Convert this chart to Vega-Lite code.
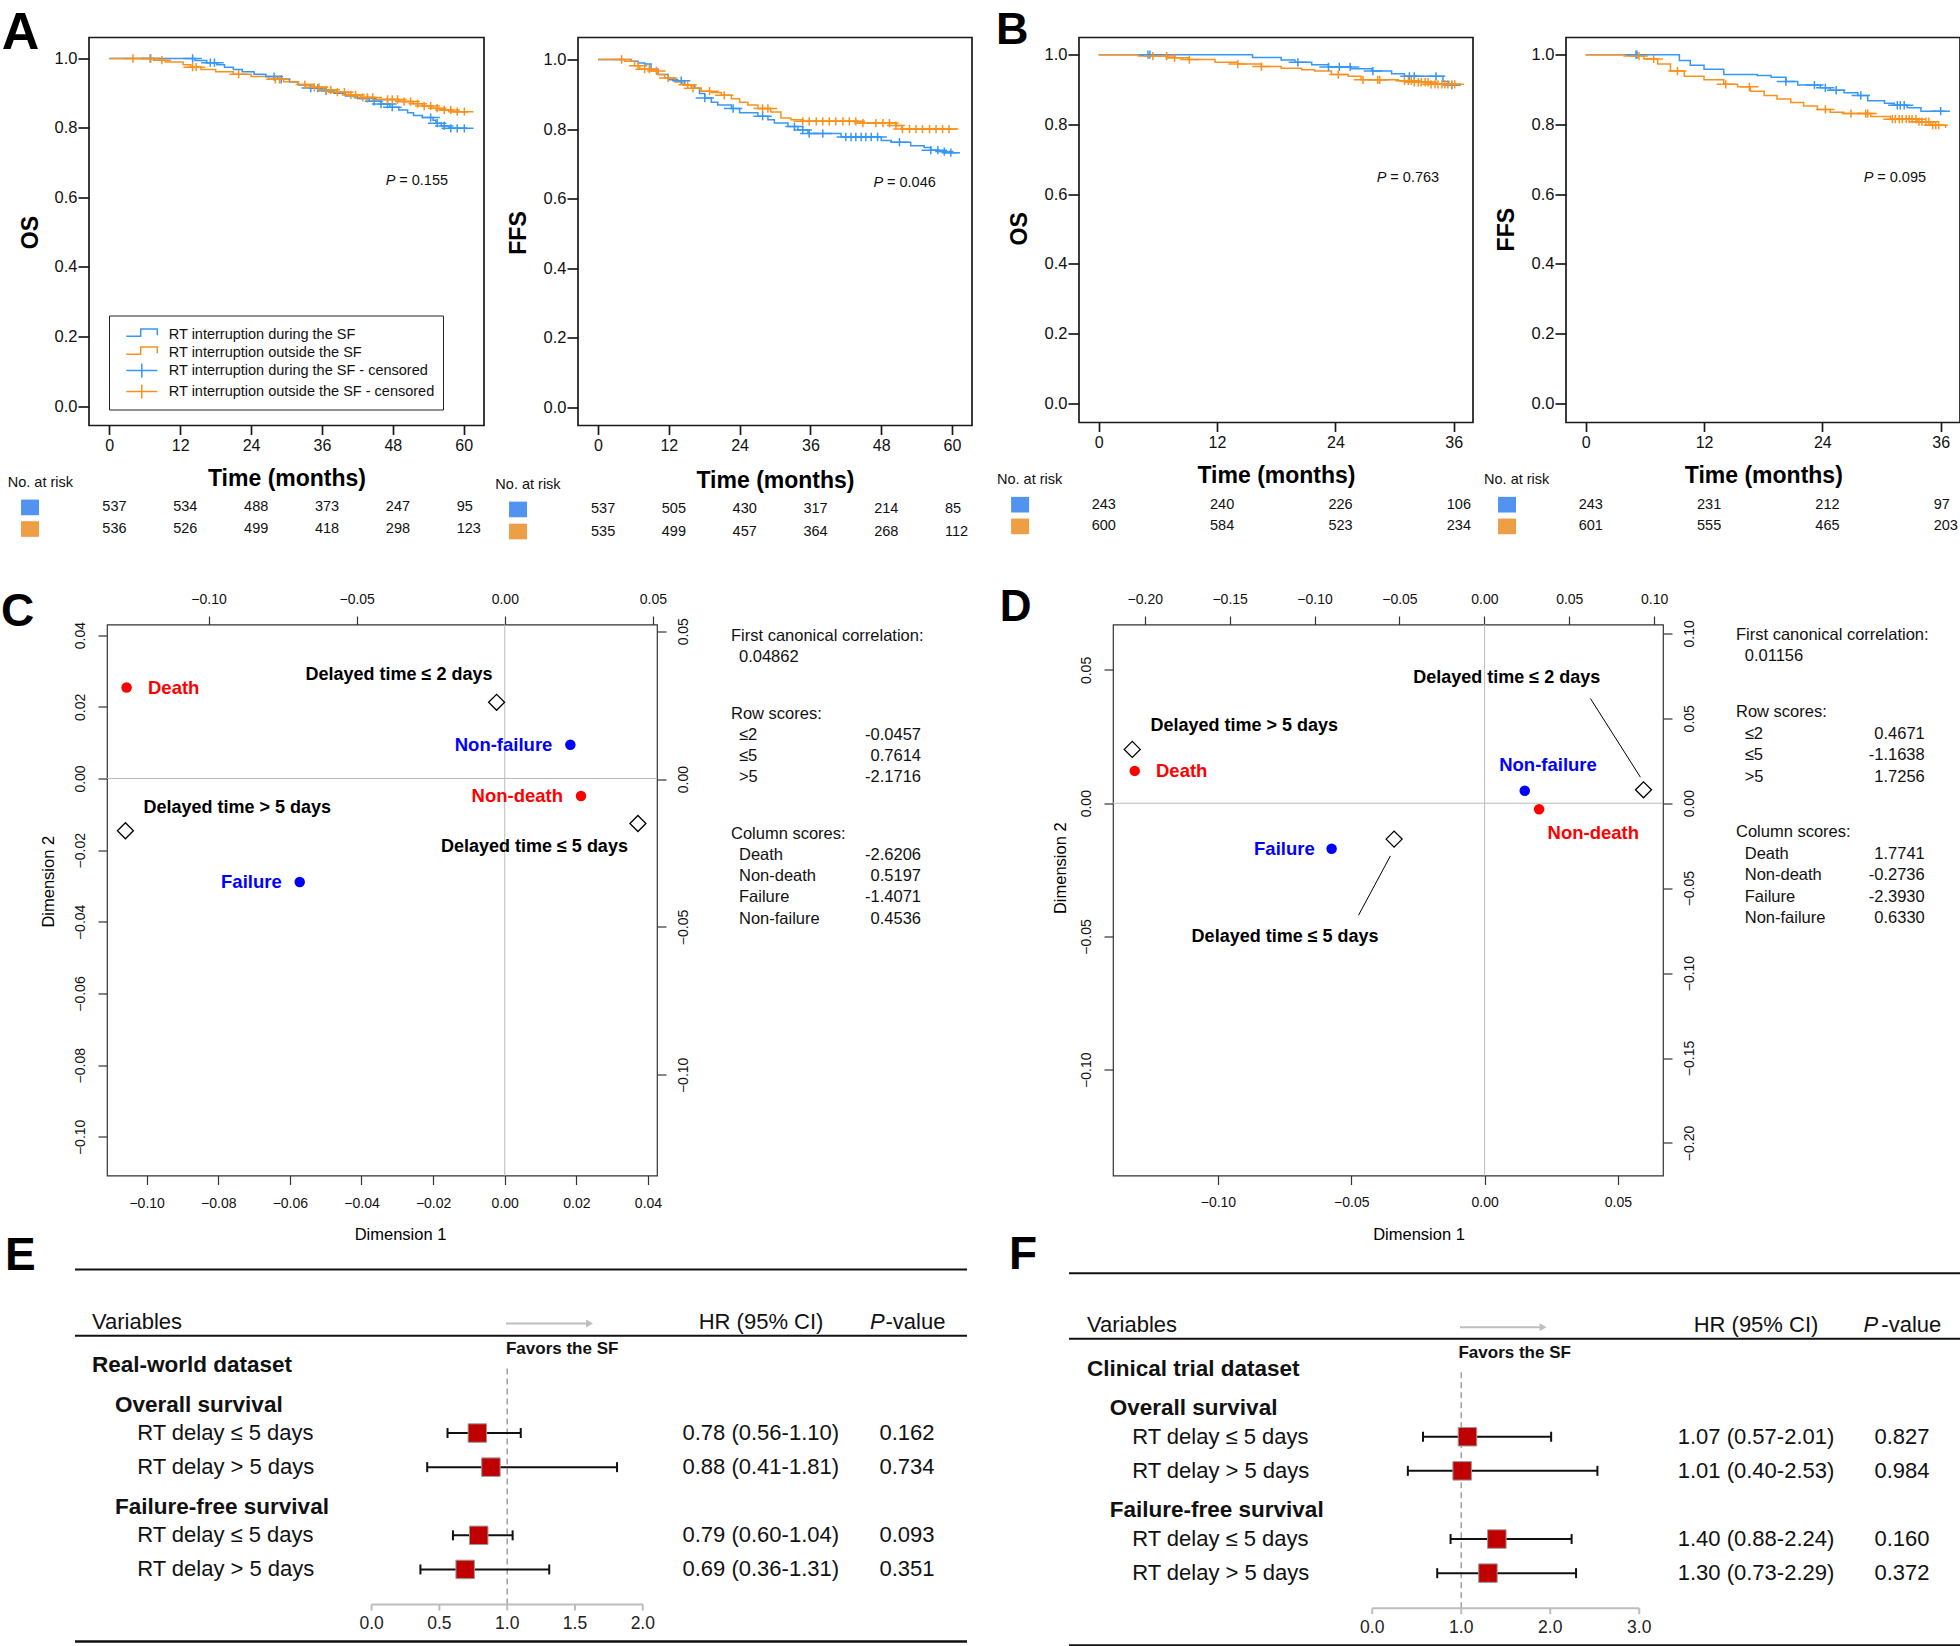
{
"$schema": "https://vega.github.io/schema/vega-lite/v6.json",
"padding": {"top": 5.5, "left": 0, "right": 0, "bottom": 0},
"background": "#ffffff",
"bounds": "flush",
"spacing": 0,
"resolve": {"scale": {"color": "independent", "shape": "independent"}},
"config": {
  "view": {"stroke": null},
  "font": "Liberation Sans",
  "axis": {"domain": false, "grid": false, "labelOverlap": false, "labelFlush": false, "labelBound": false, "labelFont": "Liberation Sans", "titleFont": "Liberation Sans", "labelColor": "#111111", "titleColor": "#000000", "tickColor": "#222222", "tickWidth": 1.2},
  "text": {"font": "Liberation Sans", "color": "#111111"},
  "legend": {"labelFont": "Liberation Sans"}
},
"datasets": {
"km_curve": [
{"p":"A1","g":"RT interruption during the SF","t":0,"s":1},{"p":"A1","g":"RT interruption during the SF","t":14.5,"s":0.994},{"p":"A1","g":"RT interruption during the SF","t":16.5,"s":0.988},{"p":"A1","g":"RT interruption during the SF","t":18.2,"s":0.982},{"p":"A1","g":"RT interruption during the SF","t":19.5,"s":0.975},{"p":"A1","g":"RT interruption during the SF","t":21,"s":0.968},{"p":"A1","g":"RT interruption during the SF","t":22.5,"s":0.962},{"p":"A1","g":"RT interruption during the SF","t":24.5,"s":0.955},{"p":"A1","g":"RT interruption during the SF","t":26.5,"s":0.948},{"p":"A1","g":"RT interruption during the SF","t":28.5,"s":0.94},{"p":"A1","g":"RT interruption during the SF","t":30.5,"s":0.932},{"p":"A1","g":"RT interruption during the SF","t":32,"s":0.924},{"p":"A1","g":"RT interruption during the SF","t":34,"s":0.915},{"p":"A1","g":"RT interruption during the SF","t":36,"s":0.907},{"p":"A1","g":"RT interruption during the SF","t":38,"s":0.9},{"p":"A1","g":"RT interruption during the SF","t":40,"s":0.892},{"p":"A1","g":"RT interruption during the SF","t":42,"s":0.885},{"p":"A1","g":"RT interruption during the SF","t":44,"s":0.877},{"p":"A1","g":"RT interruption during the SF","t":46,"s":0.869},{"p":"A1","g":"RT interruption during the SF","t":47.5,"s":0.86},{"p":"A1","g":"RT interruption during the SF","t":49,"s":0.852},{"p":"A1","g":"RT interruption during the SF","t":50.5,"s":0.844},{"p":"A1","g":"RT interruption during the SF","t":51.5,"s":0.836},{"p":"A1","g":"RT interruption during the SF","t":53,"s":0.83},{"p":"A1","g":"RT interruption during the SF","t":54.8,"s":0.822},{"p":"A1","g":"RT interruption during the SF","t":55.3,"s":0.814},{"p":"A1","g":"RT interruption during the SF","t":56.2,"s":0.806},{"p":"A1","g":"RT interruption during the SF","t":57.5,"s":0.799},{"p":"A1","g":"RT interruption during the SF","t":60.6,"s":0.799},
{"p":"A1","g":"RT interruption outside the SF","t":0,"s":1},{"p":"A1","g":"RT interruption outside the SF","t":7.5,"s":0.995},{"p":"A1","g":"RT interruption outside the SF","t":9.5,"s":0.99},{"p":"A1","g":"RT interruption outside the SF","t":12.5,"s":0.982},{"p":"A1","g":"RT interruption outside the SF","t":13.8,"s":0.975},{"p":"A1","g":"RT interruption outside the SF","t":15.5,"s":0.968},{"p":"A1","g":"RT interruption outside the SF","t":18,"s":0.962},{"p":"A1","g":"RT interruption outside the SF","t":21,"s":0.955},{"p":"A1","g":"RT interruption outside the SF","t":24,"s":0.948},{"p":"A1","g":"RT interruption outside the SF","t":27,"s":0.94},{"p":"A1","g":"RT interruption outside the SF","t":29.5,"s":0.933},{"p":"A1","g":"RT interruption outside the SF","t":32,"s":0.925},{"p":"A1","g":"RT interruption outside the SF","t":34.5,"s":0.917},{"p":"A1","g":"RT interruption outside the SF","t":36.5,"s":0.91},{"p":"A1","g":"RT interruption outside the SF","t":38.5,"s":0.903},{"p":"A1","g":"RT interruption outside the SF","t":40.5,"s":0.895},{"p":"A1","g":"RT interruption outside the SF","t":42.5,"s":0.888},{"p":"A1","g":"RT interruption outside the SF","t":45,"s":0.882},{"p":"A1","g":"RT interruption outside the SF","t":49,"s":0.876},{"p":"A1","g":"RT interruption outside the SF","t":51.5,"s":0.87},{"p":"A1","g":"RT interruption outside the SF","t":53,"s":0.863},{"p":"A1","g":"RT interruption outside the SF","t":54.5,"s":0.857},{"p":"A1","g":"RT interruption outside the SF","t":56,"s":0.852},{"p":"A1","g":"RT interruption outside the SF","t":58,"s":0.847},{"p":"A1","g":"RT interruption outside the SF","t":60.9,"s":0.847},
{"p":"A2","g":"RT interruption during the SF","t":0,"s":1},{"p":"A2","g":"RT interruption during the SF","t":5.6,"s":0.995},{"p":"A2","g":"RT interruption during the SF","t":6.8,"s":0.99},{"p":"A2","g":"RT interruption during the SF","t":7.9,"s":0.987},{"p":"A2","g":"RT interruption during the SF","t":9,"s":0.972},{"p":"A2","g":"RT interruption during the SF","t":10.2,"s":0.957},{"p":"A2","g":"RT interruption during the SF","t":11.9,"s":0.942},{"p":"A2","g":"RT interruption during the SF","t":13.5,"s":0.939},{"p":"A2","g":"RT interruption during the SF","t":14.7,"s":0.927},{"p":"A2","g":"RT interruption during the SF","t":16.4,"s":0.917},{"p":"A2","g":"RT interruption during the SF","t":17.2,"s":0.902},{"p":"A2","g":"RT interruption during the SF","t":18.1,"s":0.889},{"p":"A2","g":"RT interruption during the SF","t":19.2,"s":0.877},{"p":"A2","g":"RT interruption during the SF","t":20.3,"s":0.869},{"p":"A2","g":"RT interruption during the SF","t":22.6,"s":0.859},{"p":"A2","g":"RT interruption during the SF","t":24,"s":0.847},{"p":"A2","g":"RT interruption during the SF","t":27.1,"s":0.837},{"p":"A2","g":"RT interruption during the SF","t":28.8,"s":0.827},{"p":"A2","g":"RT interruption during the SF","t":29.9,"s":0.817},{"p":"A2","g":"RT interruption during the SF","t":32.2,"s":0.807},{"p":"A2","g":"RT interruption during the SF","t":33.9,"s":0.797},{"p":"A2","g":"RT interruption during the SF","t":35.6,"s":0.787},{"p":"A2","g":"RT interruption during the SF","t":41.2,"s":0.777},{"p":"A2","g":"RT interruption during the SF","t":48,"s":0.767},{"p":"A2","g":"RT interruption during the SF","t":49.7,"s":0.762},{"p":"A2","g":"RT interruption during the SF","t":53,"s":0.752},{"p":"A2","g":"RT interruption during the SF","t":55.3,"s":0.747},{"p":"A2","g":"RT interruption during the SF","t":56.4,"s":0.739},{"p":"A2","g":"RT interruption during the SF","t":57.8,"s":0.735},{"p":"A2","g":"RT interruption during the SF","t":59,"s":0.732},{"p":"A2","g":"RT interruption during the SF","t":60.9,"s":0.732},
{"p":"A2","g":"RT interruption outside the SF","t":0,"s":1},{"p":"A2","g":"RT interruption outside the SF","t":4.5,"s":0.995},{"p":"A2","g":"RT interruption outside the SF","t":6.2,"s":0.982},{"p":"A2","g":"RT interruption outside the SF","t":7.1,"s":0.972},{"p":"A2","g":"RT interruption outside the SF","t":9,"s":0.967},{"p":"A2","g":"RT interruption outside the SF","t":10.2,"s":0.957},{"p":"A2","g":"RT interruption outside the SF","t":11.3,"s":0.947},{"p":"A2","g":"RT interruption outside the SF","t":13,"s":0.935},{"p":"A2","g":"RT interruption outside the SF","t":14.4,"s":0.927},{"p":"A2","g":"RT interruption outside the SF","t":15.8,"s":0.917},{"p":"A2","g":"RT interruption outside the SF","t":17.5,"s":0.909},{"p":"A2","g":"RT interruption outside the SF","t":19.2,"s":0.905},{"p":"A2","g":"RT interruption outside the SF","t":20.9,"s":0.897},{"p":"A2","g":"RT interruption outside the SF","t":22.6,"s":0.887},{"p":"A2","g":"RT interruption outside the SF","t":24,"s":0.877},{"p":"A2","g":"RT interruption outside the SF","t":25.4,"s":0.869},{"p":"A2","g":"RT interruption outside the SF","t":27.1,"s":0.859},{"p":"A2","g":"RT interruption outside the SF","t":29.3,"s":0.849},{"p":"A2","g":"RT interruption outside the SF","t":31,"s":0.832},{"p":"A2","g":"RT interruption outside the SF","t":32.7,"s":0.827},{"p":"A2","g":"RT interruption outside the SF","t":34.7,"s":0.822},{"p":"A2","g":"RT interruption outside the SF","t":44,"s":0.817},{"p":"A2","g":"RT interruption outside the SF","t":50.5,"s":0.81},{"p":"A2","g":"RT interruption outside the SF","t":51.5,"s":0.8},{"p":"A2","g":"RT interruption outside the SF","t":60.9,"s":0.8},
{"p":"B1","g":"RT interruption during the SF","t":0,"s":1},{"p":"B1","g":"RT interruption during the SF","t":15.6,"s":0.992},{"p":"B1","g":"RT interruption during the SF","t":18.5,"s":0.985},{"p":"B1","g":"RT interruption during the SF","t":19.9,"s":0.978},{"p":"B1","g":"RT interruption during the SF","t":21.6,"s":0.971},{"p":"B1","g":"RT interruption during the SF","t":23.3,"s":0.965},{"p":"B1","g":"RT interruption during the SF","t":25.6,"s":0.96},{"p":"B1","g":"RT interruption during the SF","t":27.7,"s":0.953},{"p":"B1","g":"RT interruption during the SF","t":29.7,"s":0.945},{"p":"B1","g":"RT interruption during the SF","t":31,"s":0.938},{"p":"B1","g":"RT interruption during the SF","t":34.9,"s":0.923},{"p":"B1","g":"RT interruption during the SF","t":35.5,"s":0.913},{"p":"B1","g":"RT interruption during the SF","t":36.6,"s":0.913},
{"p":"B1","g":"RT interruption outside the SF","t":0,"s":1},{"p":"B1","g":"RT interruption outside the SF","t":4,"s":0.996},{"p":"B1","g":"RT interruption outside the SF","t":7,"s":0.991},{"p":"B1","g":"RT interruption outside the SF","t":9.1,"s":0.986},{"p":"B1","g":"RT interruption outside the SF","t":11.8,"s":0.978},{"p":"B1","g":"RT interruption outside the SF","t":14.1,"s":0.973},{"p":"B1","g":"RT interruption outside the SF","t":16.5,"s":0.966},{"p":"B1","g":"RT interruption outside the SF","t":18.5,"s":0.961},{"p":"B1","g":"RT interruption outside the SF","t":20.6,"s":0.957},{"p":"B1","g":"RT interruption outside the SF","t":21.9,"s":0.953},{"p":"B1","g":"RT interruption outside the SF","t":23.6,"s":0.943},{"p":"B1","g":"RT interruption outside the SF","t":25.3,"s":0.938},{"p":"B1","g":"RT interruption outside the SF","t":26.6,"s":0.928},{"p":"B1","g":"RT interruption outside the SF","t":30.4,"s":0.925},{"p":"B1","g":"RT interruption outside the SF","t":32,"s":0.921},{"p":"B1","g":"RT interruption outside the SF","t":33.7,"s":0.915},{"p":"B1","g":"RT interruption outside the SF","t":36.6,"s":0.911},
{"p":"B2","g":"RT interruption during the SF","t":0,"s":1},{"p":"B2","g":"RT interruption during the SF","t":9.5,"s":0.983},{"p":"B2","g":"RT interruption during the SF","t":10.6,"s":0.97},{"p":"B2","g":"RT interruption during the SF","t":12,"s":0.958},{"p":"B2","g":"RT interruption during the SF","t":14,"s":0.943},{"p":"B2","g":"RT interruption during the SF","t":17.4,"s":0.94},{"p":"B2","g":"RT interruption during the SF","t":18.8,"s":0.935},{"p":"B2","g":"RT interruption during the SF","t":20.3,"s":0.923},{"p":"B2","g":"RT interruption during the SF","t":21.5,"s":0.913},{"p":"B2","g":"RT interruption during the SF","t":23.8,"s":0.905},{"p":"B2","g":"RT interruption during the SF","t":24.8,"s":0.898},{"p":"B2","g":"RT interruption during the SF","t":26.2,"s":0.891},{"p":"B2","g":"RT interruption during the SF","t":27.6,"s":0.883},{"p":"B2","g":"RT interruption during the SF","t":28.6,"s":0.868},{"p":"B2","g":"RT interruption during the SF","t":30.3,"s":0.861},{"p":"B2","g":"RT interruption during the SF","t":31.3,"s":0.855},{"p":"B2","g":"RT interruption during the SF","t":32.6,"s":0.848},{"p":"B2","g":"RT interruption during the SF","t":34,"s":0.838},{"p":"B2","g":"RT interruption during the SF","t":36.5,"s":0.838},
{"p":"B2","g":"RT interruption outside the SF","t":0,"s":1},{"p":"B2","g":"RT interruption outside the SF","t":3.9,"s":0.996},{"p":"B2","g":"RT interruption outside the SF","t":5.9,"s":0.988},{"p":"B2","g":"RT interruption outside the SF","t":7.3,"s":0.973},{"p":"B2","g":"RT interruption outside the SF","t":8.6,"s":0.953},{"p":"B2","g":"RT interruption outside the SF","t":10,"s":0.938},{"p":"B2","g":"RT interruption outside the SF","t":12,"s":0.928},{"p":"B2","g":"RT interruption outside the SF","t":14,"s":0.915},{"p":"B2","g":"RT interruption outside the SF","t":15.4,"s":0.908},{"p":"B2","g":"RT interruption outside the SF","t":16.7,"s":0.895},{"p":"B2","g":"RT interruption outside the SF","t":18.1,"s":0.883},{"p":"B2","g":"RT interruption outside the SF","t":19.4,"s":0.873},{"p":"B2","g":"RT interruption outside the SF","t":20.8,"s":0.863},{"p":"B2","g":"RT interruption outside the SF","t":22.1,"s":0.853},{"p":"B2","g":"RT interruption outside the SF","t":23.5,"s":0.843},{"p":"B2","g":"RT interruption outside the SF","t":24.8,"s":0.835},{"p":"B2","g":"RT interruption outside the SF","t":26.2,"s":0.831},{"p":"B2","g":"RT interruption outside the SF","t":28.9,"s":0.823},{"p":"B2","g":"RT interruption outside the SF","t":30.9,"s":0.815},{"p":"B2","g":"RT interruption outside the SF","t":33.6,"s":0.808},{"p":"B2","g":"RT interruption outside the SF","t":35,"s":0.798},{"p":"B2","g":"RT interruption outside the SF","t":36.5,"s":0.79}
],
"km_cens": [
{"p":"A1","g":"RT interruption during the SF - censored","t":7,"s":1},{"p":"A1","g":"RT interruption during the SF - censored","t":14.1,"s":1},{"p":"A1","g":"RT interruption during the SF - censored","t":17.1,"s":0.988},{"p":"A1","g":"RT interruption during the SF - censored","t":17.8,"s":0.988},{"p":"A1","g":"RT interruption during the SF - censored","t":27.9,"s":0.948},{"p":"A1","g":"RT interruption during the SF - censored","t":29.1,"s":0.94},{"p":"A1","g":"RT interruption during the SF - censored","t":34.1,"s":0.915},{"p":"A1","g":"RT interruption during the SF - censored","t":35.3,"s":0.915},{"p":"A1","g":"RT interruption during the SF - censored","t":36.7,"s":0.907},{"p":"A1","g":"RT interruption during the SF - censored","t":43.7,"s":0.885},{"p":"A1","g":"RT interruption during the SF - censored","t":44.8,"s":0.877},{"p":"A1","g":"RT interruption during the SF - censored","t":46,"s":0.869},{"p":"A1","g":"RT interruption during the SF - censored","t":47.1,"s":0.869},{"p":"A1","g":"RT interruption during the SF - censored","t":47.9,"s":0.86},{"p":"A1","g":"RT interruption during the SF - censored","t":54.4,"s":0.83},{"p":"A1","g":"RT interruption during the SF - censored","t":55.5,"s":0.814},{"p":"A1","g":"RT interruption during the SF - censored","t":56.7,"s":0.806},{"p":"A1","g":"RT interruption during the SF - censored","t":57.8,"s":0.799},{"p":"A1","g":"RT interruption during the SF - censored","t":58.9,"s":0.799},{"p":"A1","g":"RT interruption during the SF - censored","t":60.1,"s":0.799},
{"p":"A1","g":"RT interruption outside the SF - censored","t":4,"s":1},{"p":"A1","g":"RT interruption outside the SF - censored","t":6.9,"s":1},{"p":"A1","g":"RT interruption outside the SF - censored","t":8.9,"s":0.995},{"p":"A1","g":"RT interruption outside the SF - censored","t":14.1,"s":0.975},{"p":"A1","g":"RT interruption outside the SF - censored","t":14.7,"s":0.975},{"p":"A1","g":"RT interruption outside the SF - censored","t":21.9,"s":0.955},{"p":"A1","g":"RT interruption outside the SF - censored","t":28.1,"s":0.94},{"p":"A1","g":"RT interruption outside the SF - censored","t":28.8,"s":0.94},{"p":"A1","g":"RT interruption outside the SF - censored","t":33.1,"s":0.925},{"p":"A1","g":"RT interruption outside the SF - censored","t":34.7,"s":0.917},{"p":"A1","g":"RT interruption outside the SF - censored","t":35.5,"s":0.917},{"p":"A1","g":"RT interruption outside the SF - censored","t":36.7,"s":0.91},{"p":"A1","g":"RT interruption outside the SF - censored","t":37.5,"s":0.91},{"p":"A1","g":"RT interruption outside the SF - censored","t":38.6,"s":0.903},{"p":"A1","g":"RT interruption outside the SF - censored","t":39.8,"s":0.903},{"p":"A1","g":"RT interruption outside the SF - censored","t":40.9,"s":0.895},{"p":"A1","g":"RT interruption outside the SF - censored","t":41.7,"s":0.895},{"p":"A1","g":"RT interruption outside the SF - censored","t":42.9,"s":0.888},{"p":"A1","g":"RT interruption outside the SF - censored","t":43.7,"s":0.888},{"p":"A1","g":"RT interruption outside the SF - censored","t":44.6,"s":0.888},{"p":"A1","g":"RT interruption outside the SF - censored","t":47.1,"s":0.882},{"p":"A1","g":"RT interruption outside the SF - censored","t":47.9,"s":0.882},{"p":"A1","g":"RT interruption outside the SF - censored","t":48.8,"s":0.882},{"p":"A1","g":"RT interruption outside the SF - censored","t":49.9,"s":0.876},{"p":"A1","g":"RT interruption outside the SF - censored","t":51,"s":0.876},{"p":"A1","g":"RT interruption outside the SF - censored","t":52.2,"s":0.87},{"p":"A1","g":"RT interruption outside the SF - censored","t":53.3,"s":0.863},{"p":"A1","g":"RT interruption outside the SF - censored","t":54.4,"s":0.863},{"p":"A1","g":"RT interruption outside the SF - censored","t":55.5,"s":0.857},{"p":"A1","g":"RT interruption outside the SF - censored","t":56.7,"s":0.852},{"p":"A1","g":"RT interruption outside the SF - censored","t":57.8,"s":0.852},{"p":"A1","g":"RT interruption outside the SF - censored","t":58.9,"s":0.847},{"p":"A1","g":"RT interruption outside the SF - censored","t":60.1,"s":0.847},
{"p":"A2","g":"RT interruption during the SF - censored","t":14.1,"s":0.939},{"p":"A2","g":"RT interruption during the SF - censored","t":18.1,"s":0.889},{"p":"A2","g":"RT interruption during the SF - censored","t":22.9,"s":0.859},{"p":"A2","g":"RT interruption during the SF - censored","t":27.9,"s":0.837},{"p":"A2","g":"RT interruption during the SF - censored","t":33.3,"s":0.807},{"p":"A2","g":"RT interruption during the SF - censored","t":34.7,"s":0.797},{"p":"A2","g":"RT interruption during the SF - censored","t":35.8,"s":0.787},{"p":"A2","g":"RT interruption during the SF - censored","t":38.1,"s":0.787},{"p":"A2","g":"RT interruption during the SF - censored","t":42,"s":0.777},{"p":"A2","g":"RT interruption during the SF - censored","t":42.9,"s":0.777},{"p":"A2","g":"RT interruption during the SF - censored","t":43.7,"s":0.777},{"p":"A2","g":"RT interruption during the SF - censored","t":44.6,"s":0.777},{"p":"A2","g":"RT interruption during the SF - censored","t":45.4,"s":0.777},{"p":"A2","g":"RT interruption during the SF - censored","t":46.3,"s":0.777},{"p":"A2","g":"RT interruption during the SF - censored","t":47.4,"s":0.777},{"p":"A2","g":"RT interruption during the SF - censored","t":51.1,"s":0.762},{"p":"A2","g":"RT interruption during the SF - censored","t":56.4,"s":0.739},{"p":"A2","g":"RT interruption during the SF - censored","t":57.6,"s":0.739},{"p":"A2","g":"RT interruption during the SF - censored","t":58.7,"s":0.735},{"p":"A2","g":"RT interruption during the SF - censored","t":59.8,"s":0.732},
{"p":"A2","g":"RT interruption outside the SF - censored","t":4,"s":1},{"p":"A2","g":"RT interruption outside the SF - censored","t":6.8,"s":0.982},{"p":"A2","g":"RT interruption outside the SF - censored","t":7.9,"s":0.972},{"p":"A2","g":"RT interruption outside the SF - censored","t":8.7,"s":0.972},{"p":"A2","g":"RT interruption outside the SF - censored","t":9.9,"s":0.967},{"p":"A2","g":"RT interruption outside the SF - censored","t":11.9,"s":0.947},{"p":"A2","g":"RT interruption outside the SF - censored","t":15.2,"s":0.927},{"p":"A2","g":"RT interruption outside the SF - censored","t":16.1,"s":0.917},{"p":"A2","g":"RT interruption outside the SF - censored","t":18.9,"s":0.909},{"p":"A2","g":"RT interruption outside the SF - censored","t":21.4,"s":0.897},{"p":"A2","g":"RT interruption outside the SF - censored","t":27.9,"s":0.859},{"p":"A2","g":"RT interruption outside the SF - censored","t":28.8,"s":0.859},{"p":"A2","g":"RT interruption outside the SF - censored","t":34.7,"s":0.822},{"p":"A2","g":"RT interruption outside the SF - censored","t":35.8,"s":0.822},{"p":"A2","g":"RT interruption outside the SF - censored","t":37,"s":0.822},{"p":"A2","g":"RT interruption outside the SF - censored","t":38.1,"s":0.822},{"p":"A2","g":"RT interruption outside the SF - censored","t":39.2,"s":0.822},{"p":"A2","g":"RT interruption outside the SF - censored","t":40.3,"s":0.822},{"p":"A2","g":"RT interruption outside the SF - censored","t":41.5,"s":0.822},{"p":"A2","g":"RT interruption outside the SF - censored","t":42.6,"s":0.822},{"p":"A2","g":"RT interruption outside the SF - censored","t":43.7,"s":0.822},{"p":"A2","g":"RT interruption outside the SF - censored","t":44.9,"s":0.817},{"p":"A2","g":"RT interruption outside the SF - censored","t":47.1,"s":0.817},{"p":"A2","g":"RT interruption outside the SF - censored","t":48.3,"s":0.817},{"p":"A2","g":"RT interruption outside the SF - censored","t":49.4,"s":0.817},{"p":"A2","g":"RT interruption outside the SF - censored","t":50.5,"s":0.81},{"p":"A2","g":"RT interruption outside the SF - censored","t":51.6,"s":0.8},{"p":"A2","g":"RT interruption outside the SF - censored","t":52.8,"s":0.8},{"p":"A2","g":"RT interruption outside the SF - censored","t":53.9,"s":0.8},{"p":"A2","g":"RT interruption outside the SF - censored","t":55,"s":0.8},{"p":"A2","g":"RT interruption outside the SF - censored","t":56.2,"s":0.8},{"p":"A2","g":"RT interruption outside the SF - censored","t":57.3,"s":0.8},{"p":"A2","g":"RT interruption outside the SF - censored","t":58.4,"s":0.8},{"p":"A2","g":"RT interruption outside the SF - censored","t":59.5,"s":0.8},
{"p":"B1","g":"RT interruption during the SF - censored","t":5,"s":1},{"p":"B1","g":"RT interruption during the SF - censored","t":5.2,"s":1},{"p":"B1","g":"RT interruption during the SF - censored","t":20.2,"s":0.978},{"p":"B1","g":"RT interruption during the SF - censored","t":23.3,"s":0.965},{"p":"B1","g":"RT interruption during the SF - censored","t":24.4,"s":0.965},{"p":"B1","g":"RT interruption during the SF - censored","t":25.5,"s":0.965},{"p":"B1","g":"RT interruption during the SF - censored","t":27.8,"s":0.953},{"p":"B1","g":"RT interruption during the SF - censored","t":31.5,"s":0.938},{"p":"B1","g":"RT interruption during the SF - censored","t":32,"s":0.938},{"p":"B1","g":"RT interruption during the SF - censored","t":34.2,"s":0.938},{"p":"B1","g":"RT interruption during the SF - censored","t":35.8,"s":0.913},
{"p":"B1","g":"RT interruption outside the SF - censored","t":5.5,"s":0.996},{"p":"B1","g":"RT interruption outside the SF - censored","t":6.9,"s":0.996},{"p":"B1","g":"RT interruption outside the SF - censored","t":7.7,"s":0.991},{"p":"B1","g":"RT interruption outside the SF - censored","t":9.2,"s":0.986},{"p":"B1","g":"RT interruption outside the SF - censored","t":14.1,"s":0.973},{"p":"B1","g":"RT interruption outside the SF - censored","t":16.5,"s":0.966},{"p":"B1","g":"RT interruption outside the SF - censored","t":24.3,"s":0.943},{"p":"B1","g":"RT interruption outside the SF - censored","t":26.8,"s":0.928},{"p":"B1","g":"RT interruption outside the SF - censored","t":28.3,"s":0.928},{"p":"B1","g":"RT interruption outside the SF - censored","t":28.5,"s":0.928},{"p":"B1","g":"RT interruption outside the SF - censored","t":31,"s":0.925},{"p":"B1","g":"RT interruption outside the SF - censored","t":31.4,"s":0.925},{"p":"B1","g":"RT interruption outside the SF - censored","t":31.7,"s":0.925},{"p":"B1","g":"RT interruption outside the SF - censored","t":32,"s":0.921},{"p":"B1","g":"RT interruption outside the SF - censored","t":32.4,"s":0.921},{"p":"B1","g":"RT interruption outside the SF - censored","t":32.7,"s":0.921},{"p":"B1","g":"RT interruption outside the SF - censored","t":33.1,"s":0.921},{"p":"B1","g":"RT interruption outside the SF - censored","t":33.4,"s":0.921},{"p":"B1","g":"RT interruption outside the SF - censored","t":33.7,"s":0.915},{"p":"B1","g":"RT interruption outside the SF - censored","t":34.1,"s":0.915},{"p":"B1","g":"RT interruption outside the SF - censored","t":34.4,"s":0.915},{"p":"B1","g":"RT interruption outside the SF - censored","t":34.8,"s":0.915},{"p":"B1","g":"RT interruption outside the SF - censored","t":35.1,"s":0.915},{"p":"B1","g":"RT interruption outside the SF - censored","t":35.4,"s":0.915},{"p":"B1","g":"RT interruption outside the SF - censored","t":35.8,"s":0.915},{"p":"B1","g":"RT interruption outside the SF - censored","t":36.1,"s":0.915},
{"p":"B2","g":"RT interruption during the SF - censored","t":5.1,"s":1},{"p":"B2","g":"RT interruption during the SF - censored","t":5.2,"s":1},{"p":"B2","g":"RT interruption during the SF - censored","t":20.3,"s":0.923},{"p":"B2","g":"RT interruption during the SF - censored","t":23.2,"s":0.913},{"p":"B2","g":"RT interruption during the SF - censored","t":24.3,"s":0.905},{"p":"B2","g":"RT interruption during the SF - censored","t":25.4,"s":0.898},{"p":"B2","g":"RT interruption during the SF - censored","t":27.9,"s":0.883},{"p":"B2","g":"RT interruption during the SF - censored","t":31.6,"s":0.855},{"p":"B2","g":"RT interruption during the SF - censored","t":31.9,"s":0.855},{"p":"B2","g":"RT interruption during the SF - censored","t":32.3,"s":0.855},{"p":"B2","g":"RT interruption during the SF - censored","t":36,"s":0.838},
{"p":"B2","g":"RT interruption outside the SF - censored","t":5.4,"s":0.996},{"p":"B2","g":"RT interruption outside the SF - censored","t":6.9,"s":0.988},{"p":"B2","g":"RT interruption outside the SF - censored","t":9.3,"s":0.953},{"p":"B2","g":"RT interruption outside the SF - censored","t":14.2,"s":0.915},{"p":"B2","g":"RT interruption outside the SF - censored","t":16.6,"s":0.908},{"p":"B2","g":"RT interruption outside the SF - censored","t":24.3,"s":0.843},{"p":"B2","g":"RT interruption outside the SF - censored","t":26.9,"s":0.831},{"p":"B2","g":"RT interruption outside the SF - censored","t":28.4,"s":0.831},{"p":"B2","g":"RT interruption outside the SF - censored","t":28.6,"s":0.831},{"p":"B2","g":"RT interruption outside the SF - censored","t":31.1,"s":0.815},{"p":"B2","g":"RT interruption outside the SF - censored","t":31.4,"s":0.815},{"p":"B2","g":"RT interruption outside the SF - censored","t":31.8,"s":0.815},{"p":"B2","g":"RT interruption outside the SF - censored","t":32.1,"s":0.815},{"p":"B2","g":"RT interruption outside the SF - censored","t":32.5,"s":0.815},{"p":"B2","g":"RT interruption outside the SF - censored","t":32.8,"s":0.815},{"p":"B2","g":"RT interruption outside the SF - censored","t":33.1,"s":0.815},{"p":"B2","g":"RT interruption outside the SF - censored","t":33.5,"s":0.815},{"p":"B2","g":"RT interruption outside the SF - censored","t":33.8,"s":0.808},{"p":"B2","g":"RT interruption outside the SF - censored","t":34.1,"s":0.808},{"p":"B2","g":"RT interruption outside the SF - censored","t":34.5,"s":0.808},{"p":"B2","g":"RT interruption outside the SF - censored","t":34.8,"s":0.808},{"p":"B2","g":"RT interruption outside the SF - censored","t":35.2,"s":0.798},{"p":"B2","g":"RT interruption outside the SF - censored","t":35.5,"s":0.798},{"p":"B2","g":"RT interruption outside the SF - censored","t":35.8,"s":0.798}
],
"risk": [
{"p":"A1","g":"during","t":0,"n":537},{"p":"A1","g":"during","t":12,"n":534},{"p":"A1","g":"during","t":24,"n":488},{"p":"A1","g":"during","t":36,"n":373},{"p":"A1","g":"during","t":48,"n":247},{"p":"A1","g":"during","t":60,"n":95},
{"p":"A1","g":"outside","t":0,"n":536},{"p":"A1","g":"outside","t":12,"n":526},{"p":"A1","g":"outside","t":24,"n":499},{"p":"A1","g":"outside","t":36,"n":418},{"p":"A1","g":"outside","t":48,"n":298},{"p":"A1","g":"outside","t":60,"n":123},
{"p":"A2","g":"during","t":0,"n":537},{"p":"A2","g":"during","t":12,"n":505},{"p":"A2","g":"during","t":24,"n":430},{"p":"A2","g":"during","t":36,"n":317},{"p":"A2","g":"during","t":48,"n":214},{"p":"A2","g":"during","t":60,"n":85},
{"p":"A2","g":"outside","t":0,"n":535},{"p":"A2","g":"outside","t":12,"n":499},{"p":"A2","g":"outside","t":24,"n":457},{"p":"A2","g":"outside","t":36,"n":364},{"p":"A2","g":"outside","t":48,"n":268},{"p":"A2","g":"outside","t":60,"n":112},
{"p":"B1","g":"during","t":0,"n":243},{"p":"B1","g":"during","t":12,"n":240},{"p":"B1","g":"during","t":24,"n":226},{"p":"B1","g":"during","t":36,"n":106},
{"p":"B1","g":"outside","t":0,"n":600},{"p":"B1","g":"outside","t":12,"n":584},{"p":"B1","g":"outside","t":24,"n":523},{"p":"B1","g":"outside","t":36,"n":234},
{"p":"B2","g":"during","t":0,"n":243},{"p":"B2","g":"during","t":12,"n":231},{"p":"B2","g":"during","t":24,"n":212},{"p":"B2","g":"during","t":36,"n":97},
{"p":"B2","g":"outside","t":0,"n":601},{"p":"B2","g":"outside","t":12,"n":555},{"p":"B2","g":"outside","t":24,"n":465},{"p":"B2","g":"outside","t":36,"n":203}
],
"ca_col": [
{"p":"C","name":"Death","var":"death","d1":-0.1056,"d2":0.02537},
{"p":"C","name":"Non-death","var":"death","d1":0.0213,"d2":-0.0049},
{"p":"C","name":"Failure","var":"failure","d1":-0.05725,"d2":-0.02888},
{"p":"C","name":"Non-failure","var":"failure","d1":0.01833,"d2":0.0094},
{"p":"D","name":"Death","var":"death","d1":-0.1312,"d2":0.01212},
{"p":"D","name":"Non-death","var":"death","d1":0.02044,"d2":-0.00225},
{"p":"D","name":"Failure","var":"failure","d1":-0.05737,"d2":-0.01711},
{"p":"D","name":"Non-failure","var":"failure","d1":0.01506,"d2":0.00469}
],
"ca_row": [
{"p":"C","name":"Delayed time ≤ 2 days","d1":-0.00277,"d2":0.02597},
{"p":"C","name":"Delayed time ≤ 5 days","d1":0.04493,"d2":-0.01501},
{"p":"C","name":"Delayed time > 5 days","d1":-0.12806,"d2":-0.01745},
{"p":"D","name":"Delayed time ≤ 2 days","d1":0.09373,"d2":0.00789},
{"p":"D","name":"Delayed time ≤ 5 days","d1":-0.05315,"d2":-0.02113},
{"p":"D","name":"Delayed time > 5 days","d1":-0.20736,"d2":0.03167}
],
"forest": [
{"p":"E","row":0,"label":"Real-world dataset","level":0},
{"p":"E","row":1,"label":"Overall survival","level":1},
{"p":"E","row":2,"label":"RT delay ≤ 5 days","level":2,"hr":0.78,"lo":0.56,"hi":1.10,"ci":"0.78 (0.56-1.10)","pv":"0.162"},
{"p":"E","row":3,"label":"RT delay > 5 days","level":2,"hr":0.88,"lo":0.41,"hi":1.81,"ci":"0.88 (0.41-1.81)","pv":"0.734"},
{"p":"E","row":4,"label":"Failure-free survival","level":1},
{"p":"E","row":5,"label":"RT delay ≤ 5 days","level":2,"hr":0.79,"lo":0.60,"hi":1.04,"ci":"0.79 (0.60-1.04)","pv":"0.093"},
{"p":"E","row":6,"label":"RT delay > 5 days","level":2,"hr":0.69,"lo":0.36,"hi":1.31,"ci":"0.69 (0.36-1.31)","pv":"0.351"},
{"p":"F","row":0,"label":"Clinical trial dataset","level":0},
{"p":"F","row":1,"label":"Overall survival","level":1},
{"p":"F","row":2,"label":"RT delay ≤ 5 days","level":2,"hr":1.07,"lo":0.57,"hi":2.01,"ci":"1.07 (0.57-2.01)","pv":"0.827"},
{"p":"F","row":3,"label":"RT delay > 5 days","level":2,"hr":1.01,"lo":0.40,"hi":2.53,"ci":"1.01 (0.40-2.53)","pv":"0.984"},
{"p":"F","row":4,"label":"Failure-free survival","level":1},
{"p":"F","row":5,"label":"RT delay ≤ 5 days","level":2,"hr":1.40,"lo":0.88,"hi":2.24,"ci":"1.40 (0.88-2.24)","pv":"0.160"},
{"p":"F","row":6,"label":"RT delay > 5 days","level":2,"hr":1.30,"lo":0.73,"hi":2.29,"ci":"1.30 (0.73-2.29)","pv":"0.372"}
],
"hr_ticks": [
{"p":"E","v":0},{"p":"E","v":0.5},{"p":"E","v":1},{"p":"E","v":1.5},{"p":"E","v":2},
{"p":"F","v":0},{"p":"F","v":1},{"p":"F","v":2},{"p":"F","v":3}
]
},
"vconcat": [
{
"bounds": "flush", "spacing": 0,
"resolve": {"scale": {"color": "independent", "shape": "independent"}},
"hconcat": [
{"width": 88, "height": 1, "data": {"values": []}, "mark": "point"},
{
 "width": 395, "height": 388,
 "view": {"stroke": "#1a1a1a", "strokeWidth": 1.7},
 "layer": [
  {"data": {"name": "km_curve"}, "transform": [{"filter": "datum.p === 'A1'"}],
   "mark": {"type": "line", "interpolate": "step-after", "strokeWidth": 1.5},
   "encoding": {
    "x": {"field": "t", "type": "quantitative", "scale": {"domain": [-3.44, 63.43], "nice": false, "zero": false},
          "axis": {"values": [0,12,24,36,48,60], "format": "d", "tickSize": 9, "tickWidth": 1.7, "tickColor": "#1a1a1a", "labelFontSize": 16, "labelPadding": 3, "title": "Time (months)", "titleFontSize": 23, "titleFontWeight": "bold", "titleX": 197.5, "titleY": 53.2, "titleBaseline": "middle", "titleAlign": "center"}},
    "y": {"field": "s", "type": "quantitative", "scale": {"domain": [-0.0561, 1.0604], "nice": false, "zero": false},
          "axis": {"values": [0,0.2,0.4,0.6,0.8,1], "format": ".1f", "tickSize": 11, "tickWidth": 1.7, "tickColor": "#1a1a1a", "labelFontSize": 16.5, "labelPadding": 1, "title": "OS", "titleFontSize": 23, "titleFontWeight": "bold", "titleX": -58.5, "titleY": 194.6, "titleAngle": 270, "titleBaseline": "middle", "titleAlign": "center"}},
    "color": {"field": "g", "type": "nominal",
      "scale": {"domain": ["RT interruption during the SF","RT interruption outside the SF","RT interruption during the SF - censored","RT interruption outside the SF - censored"], "range": ["#3797f5","#fa911c","#3797f5","#fa911c"]},
      "legend": {"orient": "none", "legendX": 20, "legendY": 278, "title": null, "direction": "vertical", "padding": 8, "strokeColor": "#222222", "fillColor": "#ffffff", "labelFontSize": 14.5, "labelColor": "#111111", "labelLimit": 0, "symbolSize": 400, "symbolStrokeWidth": 1.5, "symbolOffset": 13.8, "labelOffset": 16, "rowPadding": 0, "symbolFillColor": "transparent"}}
   }},
  {"data": {"name": "km_cens"}, "transform": [{"filter": "datum.p === 'A1'"}],
   "mark": {"type": "point", "filled": false, "size": 140, "strokeWidth": 1.5, "opacity": 1},
   "encoding": {
    "x": {"field": "t", "type": "quantitative", "scale": {"domain": [-3.44, 63.43], "nice": false, "zero": false}},
    "y": {"field": "s", "type": "quantitative", "scale": {"domain": [-0.0561, 1.0604], "nice": false, "zero": false}},
    "color": {"field": "g", "type": "nominal",
      "scale": {"domain": ["RT interruption during the SF","RT interruption outside the SF","RT interruption during the SF - censored","RT interruption outside the SF - censored"], "range": ["#3797f5","#fa911c","#3797f5","#fa911c"]},
      "legend": {"orient": "none", "legendX": 20, "legendY": 278, "title": null, "direction": "vertical", "padding": 8, "strokeColor": "#222222", "fillColor": "#ffffff", "labelFontSize": 14.5, "labelColor": "#111111", "labelLimit": 0, "symbolSize": 400, "symbolStrokeWidth": 1.5, "symbolOffset": 13.8, "labelOffset": 16, "rowPadding": 0, "symbolFillColor": "transparent"}},
    "shape": {"field": "g", "type": "nominal",
      "scale": {"domain": ["RT interruption during the SF","RT interruption outside the SF","RT interruption during the SF - censored","RT interruption outside the SF - censored"], "range": ["M-1.55,0.17H-0.11V-0.56H1.55V0.07","M-1.55,0.17H-0.11V-0.56H1.55V0.07","M-1.55,0H1.55M0,-0.7V0.7","M-1.55,0H1.55M0,-0.7V0.7"]},
      "legend": {"orient": "none", "legendX": 20, "legendY": 278, "title": null, "direction": "vertical", "padding": 8, "strokeColor": "#222222", "fillColor": "#ffffff", "labelFontSize": 14.5, "labelColor": "#111111", "labelLimit": 0, "symbolSize": 400, "symbolStrokeWidth": 1.5, "symbolOffset": 13.8, "labelOffset": 16, "rowPadding": 0, "symbolFillColor": "transparent"}}
   }},
  {"data": {"values": [{}]}, "mark": {"type": "text", "text": "P", "fontStyle": "italic", "fontSize": 14.5, "align": "left", "baseline": "middle"},
   "encoding": {"x": {"datum": 46.8, "type": "quantitative", "scale": {"domain": [-3.44, 63.43], "nice": false, "zero": false}}, "y": {"datum": 0.648, "type": "quantitative", "scale": {"domain": [-0.0561, 1.0604], "nice": false, "zero": false}}}},
  {"data": {"values": [{}]}, "mark": {"type": "text", "text": "= 0.155", "fontSize": 14.5, "align": "left", "baseline": "middle", "dx": 13.5},
   "encoding": {"x": {"datum": 46.8, "type": "quantitative", "scale": {"domain": [-3.44, 63.43], "nice": false, "zero": false}}, "y": {"datum": 0.648, "type": "quantitative", "scale": {"domain": [-0.0561, 1.0604], "nice": false, "zero": false}}}},
  {"data": {"values": [{}]}, "mark": {"type": "text", "text": "No. at risk", "fontSize": 14.5, "align": "left", "baseline": "middle"},
   "encoding": {"x": {"datum": -17.2, "type": "quantitative", "scale": {"domain": [-3.44, 63.43], "nice": false, "zero": false}}, "y": {"datum": -0.2213, "type": "quantitative", "scale": {"domain": [-0.0561, 1.0604], "nice": false, "zero": false}}}},
  {"data": {"values": [{}]}, "mark": {"type": "point", "shape": "M-1,-0.87H1V0.87H-1Z", "size": 324, "filled": true, "color": "#5193ee", "opacity": 1},
   "encoding": {"x": {"datum": -13.42, "type": "quantitative", "scale": {"domain": [-3.44, 63.43], "nice": false, "zero": false}}, "y": {"datum": -0.2918, "type": "quantitative", "scale": {"domain": [-0.0561, 1.0604], "nice": false, "zero": false}}}},
  {"data": {"values": [{}]}, "mark": {"type": "point", "shape": "M-1,-0.87H1V0.87H-1Z", "size": 324, "filled": true, "color": "#ee9e45", "opacity": 1},
   "encoding": {"x": {"datum": -13.42, "type": "quantitative", "scale": {"domain": [-3.44, 63.43], "nice": false, "zero": false}}, "y": {"datum": -0.354, "type": "quantitative", "scale": {"domain": [-0.0561, 1.0604], "nice": false, "zero": false}}}},
  {"data": {"name": "risk"}, "transform": [{"filter": "datum.p === 'A1' && datum.g === 'during'"}],
   "mark": {"type": "text", "fontSize": 14.5, "align": "left", "baseline": "middle", "dx": -7},
   "encoding": {"x": {"field": "t", "type": "quantitative", "scale": {"domain": [-3.44, 63.43], "nice": false, "zero": false}}, "y": {"datum": -0.2912, "type": "quantitative", "scale": {"domain": [-0.0561, 1.0604], "nice": false, "zero": false}}, "text": {"field": "n", "type": "quantitative"}}},
  {"data": {"name": "risk"}, "transform": [{"filter": "datum.p === 'A1' && datum.g === 'outside'"}],
   "mark": {"type": "text", "fontSize": 14.5, "align": "left", "baseline": "middle", "dx": -7},
   "encoding": {"x": {"field": "t", "type": "quantitative", "scale": {"domain": [-3.44, 63.43], "nice": false, "zero": false}}, "y": {"datum": -0.3542, "type": "quantitative", "scale": {"domain": [-0.0561, 1.0604], "nice": false, "zero": false}}, "text": {"field": "n", "type": "quantitative"}}},
  {"data": {"values": [{}]}, "mark": {"type": "text", "text": "A", "fontSize": 52, "fontWeight": "bold", "align": "left", "baseline": "top", "color": "#000000"},
   "encoding": {"x": {"datum": -18.2, "type": "quantitative", "scale": {"domain": [-3.44, 63.43], "nice": false, "zero": false}}, "y": {"datum": 1.1453, "type": "quantitative", "scale": {"domain": [-0.0561, 1.0604], "nice": false, "zero": false}}}}
 ]
},
{"width": 94, "height": 1, "data": {"values": []}, "mark": "point"},
{
 "width": 394, "height": 388,
 "view": {"stroke": "#1a1a1a", "strokeWidth": 1.7},
 "layer": [
  {"data": {"name": "km_curve"}, "transform": [{"filter": "datum.p === 'A2'"}],
   "mark": {"type": "line", "interpolate": "step-after", "strokeWidth": 1.5},
   "encoding": {
    "x": {"field": "t", "type": "quantitative", "scale": {"domain": [-3.39, 63.39], "nice": false, "zero": false},
          "axis": {"values": [0,12,24,36,48,60], "format": "d", "tickSize": 9, "tickWidth": 1.7, "tickColor": "#1a1a1a", "labelFontSize": 16, "labelPadding": 3, "title": "Time (months)", "titleFontSize": 23, "titleFontWeight": "bold", "titleX": 197, "titleY": 54.9, "titleBaseline": "middle", "titleAlign": "center"}},
    "y": {"field": "s", "type": "quantitative", "scale": {"domain": [-0.053, 1.0633], "nice": false, "zero": false},
          "axis": {"values": [0,0.2,0.4,0.6,0.8,1], "format": ".1f", "tickSize": 11, "tickWidth": 1.7, "tickColor": "#1a1a1a", "labelFontSize": 16.5, "labelPadding": 1, "title": "FFS", "titleFontSize": 23, "titleFontWeight": "bold", "titleX": -60, "titleY": 195, "titleAngle": 270, "titleBaseline": "middle", "titleAlign": "center"}},
    "color": {"field": "g", "type": "nominal", "scale": {"domain": ["RT interruption during the SF","RT interruption outside the SF","RT interruption during the SF - censored","RT interruption outside the SF - censored"], "range": ["#3797f5","#fa911c","#3797f5","#fa911c"]}, "legend": null}
   }},
  {"data": {"name": "km_cens"}, "transform": [{"filter": "datum.p === 'A2'"}],
   "mark": {"type": "point", "filled": false, "size": 140, "strokeWidth": 1.5, "opacity": 1},
   "encoding": {
    "x": {"field": "t", "type": "quantitative", "scale": {"domain": [-3.39, 63.39], "nice": false, "zero": false}},
    "y": {"field": "s", "type": "quantitative", "scale": {"domain": [-0.053, 1.0633], "nice": false, "zero": false}},
    "color": {"field": "g", "type": "nominal", "scale": {"domain": ["RT interruption during the SF","RT interruption outside the SF","RT interruption during the SF - censored","RT interruption outside the SF - censored"], "range": ["#3797f5","#fa911c","#3797f5","#fa911c"]}, "legend": null},
    "shape": {"field": "g", "type": "nominal", "scale": {"domain": ["RT interruption during the SF","RT interruption outside the SF","RT interruption during the SF - censored","RT interruption outside the SF - censored"], "range": ["M-1.55,0.17H-0.11V-0.56H1.55V0.07","M-1.55,0.17H-0.11V-0.56H1.55V0.07","M-1.55,0H1.55M0,-0.7V0.7","M-1.55,0H1.55M0,-0.7V0.7"]}, "legend": null}
   }},
  {"data": {"values": [{}]}, "mark": {"type": "text", "text": "P", "fontStyle": "italic", "fontSize": 14.5, "align": "left", "baseline": "middle"},
   "encoding": {"x": {"datum": 46.7, "type": "quantitative", "scale": {"domain": [-3.39, 63.39], "nice": false, "zero": false}}, "y": {"datum": 0.645, "type": "quantitative", "scale": {"domain": [-0.053, 1.0633], "nice": false, "zero": false}}}},
  {"data": {"values": [{}]}, "mark": {"type": "text", "text": "= 0.046", "fontSize": 14.5, "align": "left", "baseline": "middle", "dx": 13.5},
   "encoding": {"x": {"datum": 46.7, "type": "quantitative", "scale": {"domain": [-3.39, 63.39], "nice": false, "zero": false}}, "y": {"datum": 0.645, "type": "quantitative", "scale": {"domain": [-0.053, 1.0633], "nice": false, "zero": false}}}},
  {"data": {"values": [{}]}, "mark": {"type": "text", "text": "No. at risk", "fontSize": 14.5, "align": "left", "baseline": "middle"},
   "encoding": {"x": {"datum": -17.4, "type": "quantitative", "scale": {"domain": [-3.39, 63.39], "nice": false, "zero": false}}, "y": {"datum": -0.225, "type": "quantitative", "scale": {"domain": [-0.053, 1.0633], "nice": false, "zero": false}}}},
  {"data": {"values": [{}]}, "mark": {"type": "point", "shape": "M-1,-0.87H1V0.87H-1Z", "size": 324, "filled": true, "color": "#5193ee", "opacity": 1},
   "encoding": {"x": {"datum": -13.55, "type": "quantitative", "scale": {"domain": [-3.39, 63.39], "nice": false, "zero": false}}, "y": {"datum": -0.2945, "type": "quantitative", "scale": {"domain": [-0.053, 1.0633], "nice": false, "zero": false}}}},
  {"data": {"values": [{}]}, "mark": {"type": "point", "shape": "M-1,-0.87H1V0.87H-1Z", "size": 324, "filled": true, "color": "#ee9e45", "opacity": 1},
   "encoding": {"x": {"datum": -13.55, "type": "quantitative", "scale": {"domain": [-3.39, 63.39], "nice": false, "zero": false}}, "y": {"datum": -0.358, "type": "quantitative", "scale": {"domain": [-0.053, 1.0633], "nice": false, "zero": false}}}},
  {"data": {"name": "risk"}, "transform": [{"filter": "datum.p === 'A2' && datum.g === 'during'"}],
   "mark": {"type": "text", "fontSize": 14.5, "align": "left", "baseline": "middle", "dx": -7},
   "encoding": {"x": {"field": "t", "type": "quantitative", "scale": {"domain": [-3.39, 63.39], "nice": false, "zero": false}}, "y": {"datum": -0.2945, "type": "quantitative", "scale": {"domain": [-0.053, 1.0633], "nice": false, "zero": false}}, "text": {"field": "n", "type": "quantitative"}}},
  {"data": {"name": "risk"}, "transform": [{"filter": "datum.p === 'A2' && datum.g === 'outside'"}],
   "mark": {"type": "text", "fontSize": 14.5, "align": "left", "baseline": "middle", "dx": -7},
   "encoding": {"x": {"field": "t", "type": "quantitative", "scale": {"domain": [-3.39, 63.39], "nice": false, "zero": false}}, "y": {"datum": -0.358, "type": "quantitative", "scale": {"domain": [-0.053, 1.0633], "nice": false, "zero": false}}, "text": {"field": "n", "type": "quantitative"}}}
 ]
},
{"width": 107, "height": 1, "data": {"values": []}, "mark": "point"},
{
 "width": 394, "height": 385,
 "view": {"stroke": "#1a1a1a", "strokeWidth": 1.7},
 "layer": [
  {"data": {"name": "km_curve"}, "transform": [{"filter": "datum.p === 'B1'"}],
   "mark": {"type": "line", "interpolate": "step-after", "strokeWidth": 1.5},
   "encoding": {
    "x": {"field": "t", "type": "quantitative", "scale": {"domain": [-1.99, 37.95], "nice": false, "zero": false},
          "axis": {"values": [0,12,24,36], "format": "d", "tickSize": 9, "tickWidth": 1.7, "tickColor": "#1a1a1a", "labelFontSize": 16, "labelPadding": 3, "title": "Time (months)", "titleFontSize": 23, "titleFontWeight": "bold", "titleX": 197, "titleY": 53.3, "titleBaseline": "middle", "titleAlign": "center"}},
    "y": {"field": "s", "type": "quantitative", "scale": {"domain": [-0.0548, 1.0493], "nice": false, "zero": false},
          "axis": {"values": [0,0.2,0.4,0.6,0.8,1], "format": ".1f", "tickSize": 11, "tickWidth": 1.7, "tickColor": "#1a1a1a", "labelFontSize": 16.5, "labelPadding": 1, "title": "OS", "titleFontSize": 23, "titleFontWeight": "bold", "titleX": -59.3, "titleY": 190.8, "titleAngle": 270, "titleBaseline": "middle", "titleAlign": "center"}},
    "color": {"field": "g", "type": "nominal", "scale": {"domain": ["RT interruption during the SF","RT interruption outside the SF","RT interruption during the SF - censored","RT interruption outside the SF - censored"], "range": ["#3797f5","#fa911c","#3797f5","#fa911c"]}, "legend": null}
   }},
  {"data": {"name": "km_cens"}, "transform": [{"filter": "datum.p === 'B1'"}],
   "mark": {"type": "point", "filled": false, "size": 140, "strokeWidth": 1.5, "opacity": 1},
   "encoding": {
    "x": {"field": "t", "type": "quantitative", "scale": {"domain": [-1.99, 37.95], "nice": false, "zero": false}},
    "y": {"field": "s", "type": "quantitative", "scale": {"domain": [-0.0548, 1.0493], "nice": false, "zero": false}},
    "color": {"field": "g", "type": "nominal", "scale": {"domain": ["RT interruption during the SF","RT interruption outside the SF","RT interruption during the SF - censored","RT interruption outside the SF - censored"], "range": ["#3797f5","#fa911c","#3797f5","#fa911c"]}, "legend": null},
    "shape": {"field": "g", "type": "nominal", "scale": {"domain": ["RT interruption during the SF","RT interruption outside the SF","RT interruption during the SF - censored","RT interruption outside the SF - censored"], "range": ["M-1.55,0.17H-0.11V-0.56H1.55V0.07","M-1.55,0.17H-0.11V-0.56H1.55V0.07","M-1.55,0H1.55M0,-0.7V0.7","M-1.55,0H1.55M0,-0.7V0.7"]}, "legend": null}
   }},
  {"data": {"values": [{}]}, "mark": {"type": "text", "text": "P", "fontStyle": "italic", "fontSize": 14.5, "align": "left", "baseline": "middle"},
   "encoding": {"x": {"datum": 28.2, "type": "quantitative", "scale": {"domain": [-1.99, 37.95], "nice": false, "zero": false}}, "y": {"datum": 0.6457, "type": "quantitative", "scale": {"domain": [-0.0548, 1.0493], "nice": false, "zero": false}}}},
  {"data": {"values": [{}]}, "mark": {"type": "text", "text": "= 0.763", "fontSize": 14.5, "align": "left", "baseline": "middle", "dx": 13.5},
   "encoding": {"x": {"datum": 28.2, "type": "quantitative", "scale": {"domain": [-1.99, 37.95], "nice": false, "zero": false}}, "y": {"datum": 0.6457, "type": "quantitative", "scale": {"domain": [-0.0548, 1.0493], "nice": false, "zero": false}}}},
  {"data": {"values": [{}]}, "mark": {"type": "text", "text": "No. at risk", "fontSize": 14.5, "align": "left", "baseline": "middle"},
   "encoding": {"x": {"datum": -10.3, "type": "quantitative", "scale": {"domain": [-1.99, 37.95], "nice": false, "zero": false}}, "y": {"datum": -0.2211, "type": "quantitative", "scale": {"domain": [-0.0548, 1.0493], "nice": false, "zero": false}}}},
  {"data": {"values": [{}]}, "mark": {"type": "point", "shape": "M-1,-0.87H1V0.87H-1Z", "size": 324, "filled": true, "color": "#5193ee", "opacity": 1},
   "encoding": {"x": {"datum": -7.96, "type": "quantitative", "scale": {"domain": [-1.99, 37.95], "nice": false, "zero": false}}, "y": {"datum": -0.2905, "type": "quantitative", "scale": {"domain": [-0.0548, 1.0493], "nice": false, "zero": false}}}},
  {"data": {"values": [{}]}, "mark": {"type": "point", "shape": "M-1,-0.87H1V0.87H-1Z", "size": 324, "filled": true, "color": "#ee9e45", "opacity": 1},
   "encoding": {"x": {"datum": -7.96, "type": "quantitative", "scale": {"domain": [-1.99, 37.95], "nice": false, "zero": false}}, "y": {"datum": -0.3527, "type": "quantitative", "scale": {"domain": [-0.0548, 1.0493], "nice": false, "zero": false}}}},
  {"data": {"name": "risk"}, "transform": [{"filter": "datum.p === 'B1' && datum.g === 'during'"}],
   "mark": {"type": "text", "fontSize": 14.5, "align": "left", "baseline": "middle", "dx": -7},
   "encoding": {"x": {"field": "t", "type": "quantitative", "scale": {"domain": [-1.99, 37.95], "nice": false, "zero": false}}, "y": {"datum": -0.2908, "type": "quantitative", "scale": {"domain": [-0.0548, 1.0493], "nice": false, "zero": false}}, "text": {"field": "n", "type": "quantitative"}}},
  {"data": {"name": "risk"}, "transform": [{"filter": "datum.p === 'B1' && datum.g === 'outside'"}],
   "mark": {"type": "text", "fontSize": 14.5, "align": "left", "baseline": "middle", "dx": -7},
   "encoding": {"x": {"field": "t", "type": "quantitative", "scale": {"domain": [-1.99, 37.95], "nice": false, "zero": false}}, "y": {"datum": -0.3524, "type": "quantitative", "scale": {"domain": [-0.0548, 1.0493], "nice": false, "zero": false}}, "text": {"field": "n", "type": "quantitative"}}},
  {"data": {"values": [{}]}, "mark": {"type": "text", "text": "B", "fontSize": 45, "fontWeight": "bold", "align": "left", "baseline": "top", "color": "#000000"},
   "encoding": {"x": {"datum": -10.4, "type": "quantitative", "scale": {"domain": [-1.99, 37.95], "nice": false, "zero": false}}, "y": {"datum": 1.1333, "type": "quantitative", "scale": {"domain": [-0.0548, 1.0493], "nice": false, "zero": false}}}}
 ]
},
{"width": 93, "height": 1, "data": {"values": []}, "mark": "point"},
{
 "width": 394, "height": 385,
 "view": {"stroke": "#1a1a1a", "strokeWidth": 1.7},
 "layer": [
  {"data": {"name": "km_curve"}, "transform": [{"filter": "datum.p === 'B2'"}],
   "mark": {"type": "line", "interpolate": "step-after", "strokeWidth": 1.5},
   "encoding": {
    "x": {"field": "t", "type": "quantitative", "scale": {"domain": [-2.0, 37.96], "nice": false, "zero": false},
          "axis": {"values": [0,12,24,36], "format": "d", "tickSize": 9, "tickWidth": 1.7, "tickColor": "#1a1a1a", "labelFontSize": 16, "labelPadding": 3, "title": "Time (months)", "titleFontSize": 23, "titleFontWeight": "bold", "titleX": 197.3, "titleY": 53.3, "titleBaseline": "middle", "titleAlign": "center"}},
    "y": {"field": "s", "type": "quantitative", "scale": {"domain": [-0.0548, 1.0493], "nice": false, "zero": false},
          "axis": {"values": [0,0.2,0.4,0.6,0.8,1], "format": ".1f", "tickSize": 11, "tickWidth": 1.7, "tickColor": "#1a1a1a", "labelFontSize": 16.5, "labelPadding": 1, "title": "FFS", "titleFontSize": 23, "titleFontWeight": "bold", "titleX": -59.1, "titleY": 191.7, "titleAngle": 270, "titleBaseline": "middle", "titleAlign": "center"}},
    "color": {"field": "g", "type": "nominal", "scale": {"domain": ["RT interruption during the SF","RT interruption outside the SF","RT interruption during the SF - censored","RT interruption outside the SF - censored"], "range": ["#3797f5","#fa911c","#3797f5","#fa911c"]}, "legend": null}
   }},
  {"data": {"name": "km_cens"}, "transform": [{"filter": "datum.p === 'B2'"}],
   "mark": {"type": "point", "filled": false, "size": 140, "strokeWidth": 1.5, "opacity": 1},
   "encoding": {
    "x": {"field": "t", "type": "quantitative", "scale": {"domain": [-2.0, 37.96], "nice": false, "zero": false}},
    "y": {"field": "s", "type": "quantitative", "scale": {"domain": [-0.0548, 1.0493], "nice": false, "zero": false}},
    "color": {"field": "g", "type": "nominal", "scale": {"domain": ["RT interruption during the SF","RT interruption outside the SF","RT interruption during the SF - censored","RT interruption outside the SF - censored"], "range": ["#3797f5","#fa911c","#3797f5","#fa911c"]}, "legend": null},
    "shape": {"field": "g", "type": "nominal", "scale": {"domain": ["RT interruption during the SF","RT interruption outside the SF","RT interruption during the SF - censored","RT interruption outside the SF - censored"], "range": ["M-1.55,0.17H-0.11V-0.56H1.55V0.07","M-1.55,0.17H-0.11V-0.56H1.55V0.07","M-1.55,0H1.55M0,-0.7V0.7","M-1.55,0H1.55M0,-0.7V0.7"]}, "legend": null}
   }},
  {"data": {"values": [{}]}, "mark": {"type": "text", "text": "P", "fontStyle": "italic", "fontSize": 14.5, "align": "left", "baseline": "middle"},
   "encoding": {"x": {"datum": 28.2, "type": "quantitative", "scale": {"domain": [-2.0, 37.96], "nice": false, "zero": false}}, "y": {"datum": 0.6457, "type": "quantitative", "scale": {"domain": [-0.0548, 1.0493], "nice": false, "zero": false}}}},
  {"data": {"values": [{}]}, "mark": {"type": "text", "text": "= 0.095", "fontSize": 14.5, "align": "left", "baseline": "middle", "dx": 13.5},
   "encoding": {"x": {"datum": 28.2, "type": "quantitative", "scale": {"domain": [-2.0, 37.96], "nice": false, "zero": false}}, "y": {"datum": 0.6457, "type": "quantitative", "scale": {"domain": [-0.0548, 1.0493], "nice": false, "zero": false}}}},
  {"data": {"values": [{}]}, "mark": {"type": "text", "text": "No. at risk", "fontSize": 14.5, "align": "left", "baseline": "middle"},
   "encoding": {"x": {"datum": -10.31, "type": "quantitative", "scale": {"domain": [-2.0, 37.96], "nice": false, "zero": false}}, "y": {"datum": -0.2211, "type": "quantitative", "scale": {"domain": [-0.0548, 1.0493], "nice": false, "zero": false}}}},
  {"data": {"values": [{}]}, "mark": {"type": "point", "shape": "M-1,-0.87H1V0.87H-1Z", "size": 324, "filled": true, "color": "#5193ee", "opacity": 1},
   "encoding": {"x": {"datum": -7.98, "type": "quantitative", "scale": {"domain": [-2.0, 37.96], "nice": false, "zero": false}}, "y": {"datum": -0.2905, "type": "quantitative", "scale": {"domain": [-0.0548, 1.0493], "nice": false, "zero": false}}}},
  {"data": {"values": [{}]}, "mark": {"type": "point", "shape": "M-1,-0.87H1V0.87H-1Z", "size": 324, "filled": true, "color": "#ee9e45", "opacity": 1},
   "encoding": {"x": {"datum": -7.98, "type": "quantitative", "scale": {"domain": [-2.0, 37.96], "nice": false, "zero": false}}, "y": {"datum": -0.3527, "type": "quantitative", "scale": {"domain": [-0.0548, 1.0493], "nice": false, "zero": false}}}},
  {"data": {"name": "risk"}, "transform": [{"filter": "datum.p === 'B2' && datum.g === 'during'"}],
   "mark": {"type": "text", "fontSize": 14.5, "align": "left", "baseline": "middle", "dx": -7},
   "encoding": {"x": {"field": "t", "type": "quantitative", "scale": {"domain": [-2.0, 37.96], "nice": false, "zero": false}}, "y": {"datum": -0.2908, "type": "quantitative", "scale": {"domain": [-0.0548, 1.0493], "nice": false, "zero": false}}, "text": {"field": "n", "type": "quantitative"}}},
  {"data": {"name": "risk"}, "transform": [{"filter": "datum.p === 'B2' && datum.g === 'outside'"}],
   "mark": {"type": "text", "fontSize": 14.5, "align": "left", "baseline": "middle", "dx": -7},
   "encoding": {"x": {"field": "t", "type": "quantitative", "scale": {"domain": [-2.0, 37.96], "nice": false, "zero": false}}, "y": {"datum": -0.3524, "type": "quantitative", "scale": {"domain": [-0.0548, 1.0493], "nice": false, "zero": false}}, "text": {"field": "n", "type": "quantitative"}}}
 ]
}
]
},
{"width": 1, "height": 587, "data": {"values": []}, "mark": "point"},
{
"bounds": "flush", "spacing": 0,
"resolve": {"scale": {"color": "independent", "shape": "independent"}},
"hconcat": [
{"width": 106, "height": 1, "data": {"values": []}, "mark": "point"},
{
 "width": 550, "height": 551,
 "view": {"stroke": "#333333", "strokeWidth": 1.2},
 "resolve": {"scale": {"x": "independent", "y": "independent"}},
 "layer": [
  {"layer": [
   {"data": {"values": [{}]}, "mark": {"type": "rule", "color": "#bbbbbb", "strokeWidth": 1},
    "encoding": {"x": {"datum": 0, "type": "quantitative", "scale": {"domain": [-0.11107, 0.04252], "nice": false, "zero": false}}}},
   {"data": {"values": [{}]}, "mark": {"type": "rule", "color": "#bbbbbb", "strokeWidth": 1},
    "encoding": {"y": {"datum": 0, "type": "quantitative", "scale": {"domain": [-0.11078, 0.04297], "nice": false, "zero": false}}}},
   {"data": {"name": "ca_col"}, "transform": [{"filter": "datum.p === 'C'"}],
    "mark": {"type": "point", "shape": "circle", "filled": true, "size": 110, "opacity": 1},
    "encoding": {
     "x": {"field": "d1", "type": "quantitative", "scale": {"domain": [-0.11107, 0.04252], "nice": false, "zero": false},
           "axis": {"orient": "bottom", "values": [-0.1,-0.08,-0.06,-0.04,-0.02,0,0.02,0.04], "format": ".2f", "tickSize": 9, "tickColor": "#333333", "labelFontSize": 14, "labelPadding": 11.8, "title": "Dimension 1", "titleFontSize": 16.5, "titleFontWeight": "normal", "titleX": 293, "titleY": 59.3, "titleBaseline": "middle", "titleAlign": "center"}},
     "y": {"field": "d2", "type": "quantitative", "scale": {"domain": [-0.11078, 0.04297], "nice": false, "zero": false},
           "axis": {"orient": "left", "values": [0.04,0.02,0,-0.02,-0.04,-0.06,-0.08,-0.1], "format": ".2f", "tickSize": 9, "tickColor": "#333333", "labelFontSize": 14, "labelAngle": 270, "labelAlign": "center", "labelBaseline": "bottom", "labelPadding": 11, "title": "Dimension 2", "titleFontSize": 16.5, "titleFontWeight": "normal", "titleAngle": 270, "titleX": -58.1, "titleY": 256.7, "titleBaseline": "middle", "titleAlign": "center"}},
     "color": {"field": "var", "type": "nominal", "scale": {"domain": ["death","failure"], "range": ["#ff0000","#0000ff"]}, "legend": null}
    }},
   {"data": {"name": "ca_col"}, "transform": [{"filter": "datum.p === 'C' && datum.name === 'Death'"}],
    "mark": {"type": "text", "fontSize": 18.5, "fontWeight": "bold", "align": "left", "baseline": "middle", "dx": 21.4},
    "encoding": {
     "x": {"field": "d1", "type": "quantitative", "scale": {"domain": [-0.11107, 0.04252], "nice": false, "zero": false}},
     "y": {"field": "d2", "type": "quantitative", "scale": {"domain": [-0.11078, 0.04297], "nice": false, "zero": false}},
     "text": {"field": "name"},
     "color": {"field": "var", "type": "nominal", "scale": {"domain": ["death","failure"], "range": ["#ff0000","#0000ff"]}, "legend": null}}},
   {"data": {"name": "ca_col"}, "transform": [{"filter": "datum.p === 'C' && datum.name !== 'Death'"}],
    "mark": {"type": "text", "fontSize": 18.5, "fontWeight": "bold", "align": "right", "baseline": "middle", "dx": -18},
    "encoding": {
     "x": {"field": "d1", "type": "quantitative", "scale": {"domain": [-0.11107, 0.04252], "nice": false, "zero": false}},
     "y": {"field": "d2", "type": "quantitative", "scale": {"domain": [-0.11078, 0.04297], "nice": false, "zero": false}},
     "text": {"field": "name"},
     "color": {"field": "var", "type": "nominal", "scale": {"domain": ["death","failure"], "range": ["#ff0000","#0000ff"]}, "legend": null}}},
   {"data": {"values": [{}]}, "mark": {"type": "text", "text": "First canonical correlation:", "fontSize": 16.5, "align": "left", "baseline": "top"},
    "encoding": {"x": {"datum": 0.06318, "type": "quantitative", "scale": {"domain": [-0.11107, 0.04252], "nice": false, "zero": false}}, "y": {"datum": 0.04203, "type": "quantitative", "scale": {"domain": [-0.11078, 0.04297], "nice": false, "zero": false}}}},
   {"data": {"values": [{}]}, "mark": {"type": "text", "text": "0.04862", "fontSize": 16.5, "align": "left", "baseline": "top", "dx": 8},
    "encoding": {"x": {"datum": 0.06318, "type": "quantitative", "scale": {"domain": [-0.11107, 0.04252], "nice": false, "zero": false}}, "y": {"datum": 0.03605, "type": "quantitative", "scale": {"domain": [-0.11078, 0.04297], "nice": false, "zero": false}}}},
   {"data": {"values": [{}]}, "mark": {"type": "text", "text": "Row scores:", "fontSize": 16.5, "align": "left", "baseline": "top"},
    "encoding": {"x": {"datum": 0.06318, "type": "quantitative", "scale": {"domain": [-0.11107, 0.04252], "nice": false, "zero": false}}, "y": {"datum": 0.02031, "type": "quantitative", "scale": {"domain": [-0.11078, 0.04297], "nice": false, "zero": false}}}},
   {"data": {"values": [{}]}, "mark": {"type": "text", "fontSize": 16.5, "align": "left", "baseline": "top", "lineHeight": 21.2, "dx": 8},
    "encoding": {"x": {"datum": 0.06318, "type": "quantitative", "scale": {"domain": [-0.11107, 0.04252], "nice": false, "zero": false}}, "y": {"datum": 0.01443, "type": "quantitative", "scale": {"domain": [-0.11078, 0.04297], "nice": false, "zero": false}},
     "text": {"value": ["≤2", "≤5", ">5"]}}},
   {"data": {"values": [{}]}, "mark": {"type": "text", "fontSize": 16.5, "align": "right", "baseline": "top", "lineHeight": 21.2},
    "encoding": {"x": {"datum": 0.11624, "type": "quantitative", "scale": {"domain": [-0.11107, 0.04252], "nice": false, "zero": false}}, "y": {"datum": 0.01443, "type": "quantitative", "scale": {"domain": [-0.11078, 0.04297], "nice": false, "zero": false}},
     "text": {"value": ["-0.0457", "0.7614", "-2.1716"]}}},
   {"data": {"values": [{}]}, "mark": {"type": "text", "text": "Column scores:", "fontSize": 16.5, "align": "left", "baseline": "top"},
    "encoding": {"x": {"datum": 0.06318, "type": "quantitative", "scale": {"domain": [-0.11107, 0.04252], "nice": false, "zero": false}}, "y": {"datum": -0.01317, "type": "quantitative", "scale": {"domain": [-0.11078, 0.04297], "nice": false, "zero": false}}}},
   {"data": {"values": [{}]}, "mark": {"type": "text", "fontSize": 16.5, "align": "left", "baseline": "top", "lineHeight": 21.35, "dx": 8},
    "encoding": {"x": {"datum": 0.06318, "type": "quantitative", "scale": {"domain": [-0.11107, 0.04252], "nice": false, "zero": false}}, "y": {"datum": -0.01903, "type": "quantitative", "scale": {"domain": [-0.11078, 0.04297], "nice": false, "zero": false}},
     "text": {"value": ["Death", "Non-death", "Failure", "Non-failure"]}}},
   {"data": {"values": [{}]}, "mark": {"type": "text", "fontSize": 16.5, "align": "right", "baseline": "top", "lineHeight": 21.35},
    "encoding": {"x": {"datum": 0.11624, "type": "quantitative", "scale": {"domain": [-0.11107, 0.04252], "nice": false, "zero": false}}, "y": {"datum": -0.01903, "type": "quantitative", "scale": {"domain": [-0.11078, 0.04297], "nice": false, "zero": false}},
     "text": {"value": ["-2.6206", "0.5197", "-1.4071", "0.4536"]}}},
   {"data": {"values": [{}]}, "mark": {"type": "text", "text": "C", "fontSize": 46, "fontWeight": "bold", "align": "left", "baseline": "top", "color": "#000000"},
    "encoding": {"x": {"datum": -0.14067, "type": "quantitative", "scale": {"domain": [-0.11107, 0.04252], "nice": false, "zero": false}}, "y": {"datum": 0.0526, "type": "quantitative", "scale": {"domain": [-0.11078, 0.04297], "nice": false, "zero": false}}}}
  ]},
  {"layer": [
   {"data": {"name": "ca_row"}, "transform": [{"filter": "datum.p === 'C'"}],
    "mark": {"type": "point", "shape": "diamond", "filled": true, "fill": "#ffffff", "stroke": "#000000", "strokeWidth": 1.3, "size": 256, "opacity": 1},
    "encoding": {
     "x": {"field": "d1", "type": "quantitative", "scale": {"domain": [-0.13427, 0.05137], "nice": false, "zero": false},
           "axis": {"orient": "top", "values": [-0.1,-0.05,0,0.05], "format": ".2f", "tickSize": 8.5, "tickColor": "#333333", "labelFontSize": 14, "labelPadding": 9.5, "title": null}},
     "y": {"field": "d2", "type": "quantitative", "scale": {"domain": [-0.13404, 0.05228], "nice": false, "zero": false},
           "axis": {"orient": "right", "values": [0.05,0,-0.05,-0.1], "format": ".2f", "tickSize": 9, "tickColor": "#333333", "labelFontSize": 14, "labelAngle": 270, "labelAlign": "center", "labelBaseline": "top", "labelPadding": 10, "title": null}}
    }},
   {"data": {"name": "ca_row"}, "transform": [{"filter": "datum.p === 'C' && datum.name === 'Delayed time ≤ 2 days'"}],
    "mark": {"type": "text", "fontSize": 18, "fontWeight": "bold", "align": "center", "baseline": "middle", "dx": -97.6, "dy": -27.4, "color": "#000000"},
    "encoding": {"x": {"field": "d1", "type": "quantitative", "scale": {"domain": [-0.13427, 0.05137], "nice": false, "zero": false}}, "y": {"field": "d2", "type": "quantitative", "scale": {"domain": [-0.13404, 0.05228], "nice": false, "zero": false}}, "text": {"field": "name"}}},
   {"data": {"name": "ca_row"}, "transform": [{"filter": "datum.p === 'C' && datum.name === 'Delayed time > 5 days'"}],
    "mark": {"type": "text", "fontSize": 18, "fontWeight": "bold", "align": "left", "baseline": "middle", "dx": 18.1, "dy": -22.6, "color": "#000000"},
    "encoding": {"x": {"field": "d1", "type": "quantitative", "scale": {"domain": [-0.13427, 0.05137], "nice": false, "zero": false}}, "y": {"field": "d2", "type": "quantitative", "scale": {"domain": [-0.13404, 0.05228], "nice": false, "zero": false}}, "text": {"field": "name"}}},
   {"data": {"name": "ca_row"}, "transform": [{"filter": "datum.p === 'C' && datum.name === 'Delayed time ≤ 5 days'"}],
    "mark": {"type": "text", "fontSize": 18, "fontWeight": "bold", "align": "center", "baseline": "middle", "dx": -103.5, "dy": 23.2, "color": "#000000"},
    "encoding": {"x": {"field": "d1", "type": "quantitative", "scale": {"domain": [-0.13427, 0.05137], "nice": false, "zero": false}}, "y": {"field": "d2", "type": "quantitative", "scale": {"domain": [-0.13404, 0.05228], "nice": false, "zero": false}}, "text": {"field": "name"}}}
  ]}
 ]
},
{"width": 456, "height": 1, "data": {"values": []}, "mark": "point"},
{
 "width": 550, "height": 551,
 "view": {"stroke": "#333333", "strokeWidth": 1.2},
 "resolve": {"scale": {"x": "independent", "y": "independent"}},
 "layer": [
  {"layer": [
   {"data": {"values": [{}]}, "mark": {"type": "rule", "color": "#bbbbbb", "strokeWidth": 1},
    "encoding": {"x": {"datum": 0, "type": "quantitative", "scale": {"domain": [-0.13935, 0.0669], "nice": false, "zero": false}}}},
   {"data": {"values": [{}]}, "mark": {"type": "rule", "color": "#bbbbbb", "strokeWidth": 1},
    "encoding": {"y": {"datum": 0, "type": "quantitative", "scale": {"domain": [-0.13968, 0.06705], "nice": false, "zero": false}}}},
   {"data": {"name": "ca_col"}, "transform": [{"filter": "datum.p === 'D'"}],
    "mark": {"type": "point", "shape": "circle", "filled": true, "size": 110, "opacity": 1},
    "encoding": {
     "x": {"field": "d1", "type": "quantitative", "scale": {"domain": [-0.13935, 0.0669], "nice": false, "zero": false},
           "axis": {"orient": "bottom", "values": [-0.1,-0.05,0,0.05], "format": ".2f", "tickSize": 9, "tickColor": "#333333", "labelFontSize": 14, "labelPadding": 10.5, "title": "Dimension 1", "titleFontSize": 16.5, "titleFontWeight": "normal", "titleX": 305.5, "titleY": 59.3, "titleBaseline": "middle", "titleAlign": "center"}},
     "y": {"field": "d2", "type": "quantitative", "scale": {"domain": [-0.13968, 0.06705], "nice": false, "zero": false},
           "axis": {"orient": "left", "values": [0.05,0,-0.05,-0.1], "format": ".2f", "tickSize": 9, "tickColor": "#333333", "labelFontSize": 14, "labelAngle": 270, "labelAlign": "center", "labelBaseline": "bottom", "labelPadding": 11, "title": "Dimension 2", "titleFontSize": 16.5, "titleFontWeight": "normal", "titleAngle": 270, "titleX": -52.4, "titleY": 243.2, "titleBaseline": "middle", "titleAlign": "center"}},
     "color": {"field": "var", "type": "nominal", "scale": {"domain": ["death","failure"], "range": ["#ff0000","#0000ff"]}, "legend": null}
    }},
   {"data": {"name": "ca_col"}, "transform": [{"filter": "datum.p === 'D' && datum.name === 'Death'"}],
    "mark": {"type": "text", "fontSize": 18.5, "fontWeight": "bold", "align": "left", "baseline": "middle", "dx": 21.25},
    "encoding": {
     "x": {"field": "d1", "type": "quantitative", "scale": {"domain": [-0.13935, 0.0669], "nice": false, "zero": false}},
     "y": {"field": "d2", "type": "quantitative", "scale": {"domain": [-0.13968, 0.06705], "nice": false, "zero": false}},
     "text": {"field": "name"},
     "color": {"field": "var", "type": "nominal", "scale": {"domain": ["death","failure"], "range": ["#ff0000","#0000ff"]}, "legend": null}}},
   {"data": {"name": "ca_col"}, "transform": [{"filter": "datum.p === 'D' && datum.name === 'Non-failure'"}],
    "mark": {"type": "text", "fontSize": 18.5, "fontWeight": "bold", "align": "center", "baseline": "middle", "dx": 23.25, "dy": -26},
    "encoding": {
     "x": {"field": "d1", "type": "quantitative", "scale": {"domain": [-0.13935, 0.0669], "nice": false, "zero": false}},
     "y": {"field": "d2", "type": "quantitative", "scale": {"domain": [-0.13968, 0.06705], "nice": false, "zero": false}},
     "text": {"field": "name"},
     "color": {"field": "var", "type": "nominal", "scale": {"domain": ["death","failure"], "range": ["#ff0000","#0000ff"]}, "legend": null}}},
   {"data": {"name": "ca_col"}, "transform": [{"filter": "datum.p === 'D' && datum.name === 'Non-death'"}],
    "mark": {"type": "text", "fontSize": 18.5, "fontWeight": "bold", "align": "center", "baseline": "middle", "dx": 54.2, "dy": 24},
    "encoding": {
     "x": {"field": "d1", "type": "quantitative", "scale": {"domain": [-0.13935, 0.0669], "nice": false, "zero": false}},
     "y": {"field": "d2", "type": "quantitative", "scale": {"domain": [-0.13968, 0.06705], "nice": false, "zero": false}},
     "text": {"field": "name"},
     "color": {"field": "var", "type": "nominal", "scale": {"domain": ["death","failure"], "range": ["#ff0000","#0000ff"]}, "legend": null}}},
   {"data": {"name": "ca_col"}, "transform": [{"filter": "datum.p === 'D' && datum.name === 'Failure'"}],
    "mark": {"type": "text", "fontSize": 18.5, "fontWeight": "bold", "align": "right", "baseline": "middle", "dx": -16.9},
    "encoding": {
     "x": {"field": "d1", "type": "quantitative", "scale": {"domain": [-0.13935, 0.0669], "nice": false, "zero": false}},
     "y": {"field": "d2", "type": "quantitative", "scale": {"domain": [-0.13968, 0.06705], "nice": false, "zero": false}},
     "text": {"field": "name"},
     "color": {"field": "var", "type": "nominal", "scale": {"domain": ["death","failure"], "range": ["#ff0000","#0000ff"]}, "legend": null}}},
   {"data": {"values": [{}]}, "mark": {"type": "text", "text": "First canonical correlation:", "fontSize": 16.5, "align": "left", "baseline": "top"},
    "encoding": {"x": {"datum": 0.09427, "type": "quantitative", "scale": {"domain": [-0.13935, 0.0669], "nice": false, "zero": false}}, "y": {"datum": 0.06626, "type": "quantitative", "scale": {"domain": [-0.13968, 0.06705], "nice": false, "zero": false}}}},
   {"data": {"values": [{}]}, "mark": {"type": "text", "text": "0.01156", "fontSize": 16.5, "align": "left", "baseline": "top", "dx": 8.75},
    "encoding": {"x": {"datum": 0.09427, "type": "quantitative", "scale": {"domain": [-0.13935, 0.0669], "nice": false, "zero": false}}, "y": {"datum": 0.05819, "type": "quantitative", "scale": {"domain": [-0.13968, 0.06705], "nice": false, "zero": false}}}},
   {"data": {"values": [{}]}, "mark": {"type": "text", "text": "Row scores:", "fontSize": 16.5, "align": "left", "baseline": "top"},
    "encoding": {"x": {"datum": 0.09427, "type": "quantitative", "scale": {"domain": [-0.13935, 0.0669], "nice": false, "zero": false}}, "y": {"datum": 0.03722, "type": "quantitative", "scale": {"domain": [-0.13968, 0.06705], "nice": false, "zero": false}}}},
   {"data": {"values": [{}]}, "mark": {"type": "text", "fontSize": 16.5, "align": "left", "baseline": "top", "lineHeight": 21.6, "dx": 8.75},
    "encoding": {"x": {"datum": 0.09427, "type": "quantitative", "scale": {"domain": [-0.13935, 0.0669], "nice": false, "zero": false}}, "y": {"datum": 0.02915, "type": "quantitative", "scale": {"domain": [-0.13968, 0.06705], "nice": false, "zero": false}},
     "text": {"value": ["≤2", "≤5", ">5"]}}},
   {"data": {"values": [{}]}, "mark": {"type": "text", "fontSize": 16.5, "align": "right", "baseline": "top", "lineHeight": 21.6},
    "encoding": {"x": {"datum": 0.16505, "type": "quantitative", "scale": {"domain": [-0.13935, 0.0669], "nice": false, "zero": false}}, "y": {"datum": 0.02915, "type": "quantitative", "scale": {"domain": [-0.13968, 0.06705], "nice": false, "zero": false}},
     "text": {"value": ["0.4671", "-1.1638", "1.7256"]}}},
   {"data": {"values": [{}]}, "mark": {"type": "text", "text": "Column scores:", "fontSize": 16.5, "align": "left", "baseline": "top"},
    "encoding": {"x": {"datum": 0.09427, "type": "quantitative", "scale": {"domain": [-0.13935, 0.0669], "nice": false, "zero": false}}, "y": {"datum": -0.00795, "type": "quantitative", "scale": {"domain": [-0.13968, 0.06705], "nice": false, "zero": false}}}},
   {"data": {"values": [{}]}, "mark": {"type": "text", "fontSize": 16.5, "align": "left", "baseline": "top", "lineHeight": 21.35, "dx": 8.75},
    "encoding": {"x": {"datum": 0.09427, "type": "quantitative", "scale": {"domain": [-0.13935, 0.0669], "nice": false, "zero": false}}, "y": {"datum": -0.01602, "type": "quantitative", "scale": {"domain": [-0.13968, 0.06705], "nice": false, "zero": false}},
     "text": {"value": ["Death", "Non-death", "Failure", "Non-failure"]}}},
   {"data": {"values": [{}]}, "mark": {"type": "text", "fontSize": 16.5, "align": "right", "baseline": "top", "lineHeight": 21.35},
    "encoding": {"x": {"datum": 0.16505, "type": "quantitative", "scale": {"domain": [-0.13935, 0.0669], "nice": false, "zero": false}}, "y": {"datum": -0.01602, "type": "quantitative", "scale": {"domain": [-0.13968, 0.06705], "nice": false, "zero": false}},
     "text": {"value": ["1.7741", "-0.2736", "-2.3930", "0.6330"]}}},
   {"data": {"values": [{}]}, "mark": {"type": "text", "text": "D", "fontSize": 44, "fontWeight": "bold", "align": "left", "baseline": "top", "color": "#000000"},
    "encoding": {"x": {"datum": -0.18184, "type": "quantitative", "scale": {"domain": [-0.13935, 0.0669], "nice": false, "zero": false}}, "y": {"datum": 0.08164, "type": "quantitative", "scale": {"domain": [-0.13968, 0.06705], "nice": false, "zero": false}}}}
  ]},
  {"layer": [
   {"data": {"values": [{}]}, "mark": {"type": "rule", "color": "#000000", "strokeWidth": 1},
    "encoding": {"x": {"datum": 0.06246, "type": "quantitative", "scale": {"domain": [-0.2187, 0.10521], "nice": false, "zero": false}}, "y": {"datum": 0.06164, "type": "quantitative", "scale": {"domain": [-0.21917, 0.1052], "nice": false, "zero": false}}, "x2": {"datum": 0.0919}, "y2": {"datum": 0.01531}}},
   {"data": {"values": [{}]}, "mark": {"type": "rule", "color": "#000000", "strokeWidth": 1},
    "encoding": {"x": {"datum": -0.05533, "type": "quantitative", "scale": {"domain": [-0.2187, 0.10521], "nice": false, "zero": false}}, "y": {"datum": -0.03102, "type": "quantitative", "scale": {"domain": [-0.21917, 0.1052], "nice": false, "zero": false}}, "x2": {"datum": -0.07412}, "y2": {"datum": -0.06599}}},
   {"data": {"name": "ca_row"}, "transform": [{"filter": "datum.p === 'D'"}],
    "mark": {"type": "point", "shape": "diamond", "filled": true, "fill": "#ffffff", "stroke": "#000000", "strokeWidth": 1.3, "size": 256, "opacity": 1},
    "encoding": {
     "x": {"field": "d1", "type": "quantitative", "scale": {"domain": [-0.2187, 0.10521], "nice": false, "zero": false},
           "axis": {"orient": "top", "values": [-0.2,-0.15,-0.1,-0.05,0,0.05,0.1], "format": ".2f", "tickSize": 8.5, "tickColor": "#333333", "labelFontSize": 14, "labelPadding": 9.8, "title": null}},
     "y": {"field": "d2", "type": "quantitative", "scale": {"domain": [-0.21917, 0.1052], "nice": false, "zero": false},
           "axis": {"orient": "right", "values": [0.1,0.05,0,-0.05,-0.1,-0.15,-0.2], "format": ".2f", "tickSize": 9, "tickColor": "#333333", "labelFontSize": 14, "labelAngle": 270, "labelAlign": "center", "labelBaseline": "top", "labelPadding": 10, "title": null}}
    }},
   {"data": {"name": "ca_row"}, "transform": [{"filter": "datum.p === 'D' && datum.name === 'Delayed time ≤ 2 days'"}],
    "mark": {"type": "text", "fontSize": 18, "fontWeight": "bold", "align": "center", "baseline": "middle", "dx": -136.75, "dy": -111.5, "color": "#000000"},
    "encoding": {"x": {"field": "d1", "type": "quantitative", "scale": {"domain": [-0.2187, 0.10521], "nice": false, "zero": false}}, "y": {"field": "d2", "type": "quantitative", "scale": {"domain": [-0.21917, 0.1052], "nice": false, "zero": false}}, "text": {"field": "name"}}},
   {"data": {"name": "ca_row"}, "transform": [{"filter": "datum.p === 'D' && datum.name === 'Delayed time > 5 days'"}],
    "mark": {"type": "text", "fontSize": 18, "fontWeight": "bold", "align": "center", "baseline": "middle", "dx": 112, "dy": -23.2, "color": "#000000"},
    "encoding": {"x": {"field": "d1", "type": "quantitative", "scale": {"domain": [-0.2187, 0.10521], "nice": false, "zero": false}}, "y": {"field": "d2", "type": "quantitative", "scale": {"domain": [-0.21917, 0.1052], "nice": false, "zero": false}}, "text": {"field": "name"}}},
   {"data": {"name": "ca_row"}, "transform": [{"filter": "datum.p === 'D' && datum.name === 'Delayed time ≤ 5 days'"}],
    "mark": {"type": "text", "fontSize": 18, "fontWeight": "bold", "align": "center", "baseline": "middle", "dx": -109, "dy": 98, "color": "#000000"},
    "encoding": {"x": {"field": "d1", "type": "quantitative", "scale": {"domain": [-0.2187, 0.10521], "nice": false, "zero": false}}, "y": {"field": "d2", "type": "quantitative", "scale": {"domain": [-0.21917, 0.1052], "nice": false, "zero": false}}, "text": {"field": "name"}}}
  ]}
 ]
}
]
},
{"width": 1, "height": 645, "data": {"values": []}, "mark": "point"},
{
"bounds": "flush", "spacing": 0,
"resolve": {"scale": {"color": "independent", "shape": "independent"}},
"hconcat": [
{"width": 74, "height": 1, "data": {"values": []}, "mark": "point"},
{
 "width": 892, "height": 372,
 "layer": [
  {"data": {"values": [{}]}, "mark": {"type": "rule", "color": "#111111", "strokeWidth": 2},
   "encoding": {"y": {"datum": -2.796, "type": "quantitative", "scale": {"domain": [-2.796, 8.113], "nice": false, "zero": false, "reverse": true}, "axis": null}}},
  {"data": {"values": [{}]}, "mark": {"type": "rule", "color": "#111111", "strokeWidth": 2},
   "encoding": {"y": {"datum": -0.852, "type": "quantitative", "scale": {"domain": [-2.796, 8.113], "nice": false, "zero": false, "reverse": true}, "axis": null}}},
  {"data": {"values": [{}]}, "mark": {"type": "rule", "color": "#111111", "strokeWidth": 2.5},
   "encoding": {"y": {"datum": 8.113, "type": "quantitative", "scale": {"domain": [-2.796, 8.113], "nice": false, "zero": false, "reverse": true}, "axis": null}}},
  {"data": {"values": [{}]}, "mark": {"type": "text", "text": "Variables", "fontSize": 22, "align": "left", "baseline": "middle"},
   "encoding": {"x": {"datum": -2.062, "type": "quantitative", "scale": {"domain": [-2.1873, 4.3909], "nice": false, "zero": false}, "axis": null}, "y": {"datum": -1.271, "type": "quantitative", "scale": {"domain": [-2.796, 8.113], "nice": false, "zero": false, "reverse": true}, "axis": null}}},
  {"data": {"values": [{}]}, "mark": {"type": "text", "text": "HR (95% CI)", "fontSize": 22, "align": "center", "baseline": "middle"},
   "encoding": {"x": {"datum": 2.872, "type": "quantitative", "scale": {"domain": [-2.1873, 4.3909], "nice": false, "zero": false}, "axis": null}, "y": {"datum": -1.271, "type": "quantitative", "scale": {"domain": [-2.796, 8.113], "nice": false, "zero": false, "reverse": true}, "axis": null}}},
  {"data": {"values": [{}]}, "mark": {"type": "text", "text": "P", "fontStyle": "italic", "fontSize": 22, "align": "left", "baseline": "middle"},
   "encoding": {"x": {"datum": 3.676, "type": "quantitative", "scale": {"domain": [-2.1873, 4.3909], "nice": false, "zero": false}, "axis": null}, "y": {"datum": -1.271, "type": "quantitative", "scale": {"domain": [-2.796, 8.113], "nice": false, "zero": false, "reverse": true}, "axis": null}}},
  {"data": {"values": [{}]}, "mark": {"type": "text", "text": "-value", "fontSize": 22, "align": "left", "baseline": "middle"},
   "encoding": {"x": {"datum": 3.79, "type": "quantitative", "scale": {"domain": [-2.1873, 4.3909], "nice": false, "zero": false}, "axis": null}, "y": {"datum": -1.271, "type": "quantitative", "scale": {"domain": [-2.796, 8.113], "nice": false, "zero": false, "reverse": true}, "axis": null}}},
  {"data": {"values": [{}]}, "mark": {"type": "rule", "color": "#bebebe", "strokeWidth": 2},
   "encoding": {"x": {"datum": 0.991, "type": "quantitative", "scale": {"domain": [-2.1873, 4.3909], "nice": false, "zero": false}, "axis": null}, "x2": {"datum": 1.6}, "y": {"datum": -1.213, "type": "quantitative", "scale": {"domain": [-2.796, 8.113], "nice": false, "zero": false, "reverse": true}, "axis": null}}},
  {"data": {"values": [{}]}, "mark": {"type": "point", "shape": "triangle-right", "filled": true, "color": "#bebebe", "size": 64, "opacity": 1},
   "encoding": {"x": {"datum": 1.607, "type": "quantitative", "scale": {"domain": [-2.1873, 4.3909], "nice": false, "zero": false}, "axis": null}, "y": {"datum": -1.213, "type": "quantitative", "scale": {"domain": [-2.796, 8.113], "nice": false, "zero": false, "reverse": true}, "axis": null}}},
  {"data": {"values": [{}]}, "mark": {"type": "text", "text": "Favors the SF", "fontSize": 17, "fontWeight": "bold", "align": "left", "baseline": "middle"},
   "encoding": {"x": {"datum": 0.991, "type": "quantitative", "scale": {"domain": [-2.1873, 4.3909], "nice": false, "zero": false}, "axis": null}, "y": {"datum": -0.45, "type": "quantitative", "scale": {"domain": [-2.796, 8.113], "nice": false, "zero": false, "reverse": true}, "axis": null}}},
  {"data": {"values": [{}]}, "mark": {"type": "rule", "color": "#a0a0a0", "strokeWidth": 1.5, "strokeDash": [6, 4]},
   "encoding": {"x": {"datum": 1, "type": "quantitative", "scale": {"domain": [-2.1873, 4.3909], "nice": false, "zero": false}, "axis": null}, "y": {"datum": 0.107, "type": "quantitative", "scale": {"domain": [-2.796, 8.113], "nice": false, "zero": false, "reverse": true}, "axis": null}, "y2": {"datum": 7.028}}},
  {"data": {"name": "forest"}, "transform": [{"filter": "datum.p === 'E' && datum.level === 0"}],
   "mark": {"type": "text", "fontSize": 22.5, "fontWeight": "bold", "align": "left", "baseline": "middle"},
   "encoding": {"x": {"datum": -2.062, "type": "quantitative", "scale": {"domain": [-2.1873, 4.3909], "nice": false, "zero": false}, "axis": null}, "y": {"field": "row", "type": "quantitative", "scale": {"domain": [-2.796, 8.113], "nice": false, "zero": false, "reverse": true}, "axis": null}, "text": {"field": "label"}}},
  {"data": {"name": "forest"}, "transform": [{"filter": "datum.p === 'E' && datum.level === 1"}],
   "mark": {"type": "text", "fontSize": 22.5, "fontWeight": "bold", "align": "left", "baseline": "middle", "dy": 6},
   "encoding": {"x": {"datum": -1.892, "type": "quantitative", "scale": {"domain": [-2.1873, 4.3909], "nice": false, "zero": false}, "axis": null}, "y": {"field": "row", "type": "quantitative", "scale": {"domain": [-2.796, 8.113], "nice": false, "zero": false, "reverse": true}, "axis": null}, "text": {"field": "label"}}},
  {"data": {"name": "forest"}, "transform": [{"filter": "datum.p === 'E' && datum.level === 2"}],
   "mark": {"type": "text", "fontSize": 22, "align": "left", "baseline": "middle"},
   "encoding": {"x": {"datum": -1.729, "type": "quantitative", "scale": {"domain": [-2.1873, 4.3909], "nice": false, "zero": false}, "axis": null}, "y": {"field": "row", "type": "quantitative", "scale": {"domain": [-2.796, 8.113], "nice": false, "zero": false, "reverse": true}, "axis": null}, "text": {"field": "label"}}},
  {"data": {"name": "forest"}, "transform": [{"filter": "datum.p === 'E' && datum.level === 2"}],
   "mark": {"type": "rule", "color": "#111111", "strokeWidth": 2},
   "encoding": {"x": {"field": "lo", "type": "quantitative", "scale": {"domain": [-2.1873, 4.3909], "nice": false, "zero": false}, "axis": null}, "x2": {"field": "hi"}, "y": {"field": "row", "type": "quantitative", "scale": {"domain": [-2.796, 8.113], "nice": false, "zero": false, "reverse": true}, "axis": null}}},
  {"data": {"name": "forest"}, "transform": [{"filter": "datum.p === 'E' && datum.level === 2"}],
   "mark": {"type": "point", "shape": "M0,-1V1", "filled": false, "color": "#111111", "strokeWidth": 2, "size": 100, "opacity": 1},
   "encoding": {"x": {"field": "lo", "type": "quantitative", "scale": {"domain": [-2.1873, 4.3909], "nice": false, "zero": false}, "axis": null}, "y": {"field": "row", "type": "quantitative", "scale": {"domain": [-2.796, 8.113], "nice": false, "zero": false, "reverse": true}, "axis": null}}},
  {"data": {"name": "forest"}, "transform": [{"filter": "datum.p === 'E' && datum.level === 2"}],
   "mark": {"type": "point", "shape": "M0,-1V1", "filled": false, "color": "#111111", "strokeWidth": 2, "size": 100, "opacity": 1},
   "encoding": {"x": {"field": "hi", "type": "quantitative", "scale": {"domain": [-2.1873, 4.3909], "nice": false, "zero": false}, "axis": null}, "y": {"field": "row", "type": "quantitative", "scale": {"domain": [-2.796, 8.113], "nice": false, "zero": false, "reverse": true}, "axis": null}}},
  {"data": {"name": "forest"}, "transform": [{"filter": "datum.p === 'E' && datum.level === 2"}],
   "mark": {"type": "point", "shape": "square", "filled": true, "fill": "#c00000", "stroke": "#9a9a9a", "strokeWidth": 1, "size": 342, "opacity": 1},
   "encoding": {"x": {"field": "hr", "type": "quantitative", "scale": {"domain": [-2.1873, 4.3909], "nice": false, "zero": false}, "axis": null}, "y": {"field": "row", "type": "quantitative", "scale": {"domain": [-2.796, 8.113], "nice": false, "zero": false, "reverse": true}, "axis": null}}},
  {"data": {"name": "forest"}, "transform": [{"filter": "datum.p === 'E' && datum.level === 2"}],
   "mark": {"type": "text", "fontSize": 22, "align": "center", "baseline": "middle"},
   "encoding": {"x": {"datum": 2.87, "type": "quantitative", "scale": {"domain": [-2.1873, 4.3909], "nice": false, "zero": false}, "axis": null}, "y": {"field": "row", "type": "quantitative", "scale": {"domain": [-2.796, 8.113], "nice": false, "zero": false, "reverse": true}, "axis": null}, "text": {"field": "ci"}}},
  {"data": {"name": "forest"}, "transform": [{"filter": "datum.p === 'E' && datum.level === 2"}],
   "mark": {"type": "text", "fontSize": 22, "align": "center", "baseline": "middle"},
   "encoding": {"x": {"datum": 3.948, "type": "quantitative", "scale": {"domain": [-2.1873, 4.3909], "nice": false, "zero": false}, "axis": null}, "y": {"field": "row", "type": "quantitative", "scale": {"domain": [-2.796, 8.113], "nice": false, "zero": false, "reverse": true}, "axis": null}, "text": {"field": "pv"}}},
  {"data": {"values": [{}]}, "mark": {"type": "rule", "color": "#bdbdbd", "strokeWidth": 2},
   "encoding": {"x": {"datum": 0, "type": "quantitative", "scale": {"domain": [-2.1873, 4.3909], "nice": false, "zero": false}, "axis": null}, "x2": {"datum": 2}, "y": {"datum": 7.028, "type": "quantitative", "scale": {"domain": [-2.796, 8.113], "nice": false, "zero": false, "reverse": true}, "axis": null}}},
  {"data": {"name": "hr_ticks"}, "transform": [{"filter": "datum.p === 'E'"}],
   "mark": {"type": "point", "shape": "M0,0V1", "filled": false, "color": "#bdbdbd", "strokeWidth": 2, "size": 144, "opacity": 1},
   "encoding": {"x": {"field": "v", "type": "quantitative", "scale": {"domain": [-2.1873, 4.3909], "nice": false, "zero": false}, "axis": null}, "y": {"datum": 7.028, "type": "quantitative", "scale": {"domain": [-2.796, 8.113], "nice": false, "zero": false, "reverse": true}, "axis": null}}},
  {"data": {"name": "hr_ticks"}, "transform": [{"filter": "datum.p === 'E'"}],
   "mark": {"type": "text", "fontSize": 17.5, "align": "center", "baseline": "middle", "color": "#222222"},
   "encoding": {"x": {"field": "v", "type": "quantitative", "scale": {"domain": [-2.1873, 4.3909], "nice": false, "zero": false}, "axis": null}, "y": {"datum": 7.614, "type": "quantitative", "scale": {"domain": [-2.796, 8.113], "nice": false, "zero": false, "reverse": true}, "axis": null}, "text": {"field": "v", "type": "quantitative", "format": ".1f"}}},
  {"data": {"values": [{}]}, "mark": {"type": "text", "text": "E", "fontSize": 46, "fontWeight": "bold", "align": "left", "baseline": "top", "color": "#000000"},
   "encoding": {"x": {"datum": -2.7035, "type": "quantitative", "scale": {"domain": [-2.1873, 4.3909], "nice": false, "zero": false}, "axis": null}, "y": {"datum": -3.826, "type": "quantitative", "scale": {"domain": [-2.796, 8.113], "nice": false, "zero": false, "reverse": true}, "axis": null}}}
 ]
},
{"width": 102, "height": 1, "data": {"values": []}, "mark": "point"},
{
 "width": 892, "height": 372,
 "layer": [
  {"data": {"values": [{}]}, "mark": {"type": "rule", "color": "#111111", "strokeWidth": 2},
   "encoding": {"y": {"datum": -2.796, "type": "quantitative", "scale": {"domain": [-2.9045, 8.0045], "nice": false, "zero": false, "reverse": true}, "axis": null}}},
  {"data": {"values": [{}]}, "mark": {"type": "rule", "color": "#111111", "strokeWidth": 2},
   "encoding": {"y": {"datum": -0.872, "type": "quantitative", "scale": {"domain": [-2.9045, 8.0045], "nice": false, "zero": false, "reverse": true}, "axis": null}}},
  {"data": {"values": [{}]}, "mark": {"type": "rule", "color": "#111111", "strokeWidth": 2.5},
   "encoding": {"y": {"datum": 8.122, "type": "quantitative", "scale": {"domain": [-2.9045, 8.0045], "nice": false, "zero": false, "reverse": true}, "axis": null}}},
  {"data": {"values": [{}]}, "mark": {"type": "text", "text": "Variables", "fontSize": 22, "align": "left", "baseline": "middle"},
   "encoding": {"x": {"datum": -3.205, "type": "quantitative", "scale": {"domain": [-3.4073, 6.6152], "nice": false, "zero": false}, "axis": null}, "y": {"datum": -1.28, "type": "quantitative", "scale": {"domain": [-2.9045, 8.0045], "nice": false, "zero": false, "reverse": true}, "axis": null}}},
  {"data": {"values": [{}]}, "mark": {"type": "text", "text": "HR (95% CI)", "fontSize": 22, "align": "center", "baseline": "middle"},
   "encoding": {"x": {"datum": 4.312, "type": "quantitative", "scale": {"domain": [-3.4073, 6.6152], "nice": false, "zero": false}, "axis": null}, "y": {"datum": -1.28, "type": "quantitative", "scale": {"domain": [-2.9045, 8.0045], "nice": false, "zero": false, "reverse": true}, "axis": null}}},
  {"data": {"values": [{}]}, "mark": {"type": "text", "text": "P", "fontStyle": "italic", "fontSize": 22, "align": "left", "baseline": "middle"},
   "encoding": {"x": {"datum": 5.52, "type": "quantitative", "scale": {"domain": [-3.4073, 6.6152], "nice": false, "zero": false}, "axis": null}, "y": {"datum": -1.28, "type": "quantitative", "scale": {"domain": [-2.9045, 8.0045], "nice": false, "zero": false, "reverse": true}, "axis": null}}},
  {"data": {"values": [{}]}, "mark": {"type": "text", "text": "-value", "fontSize": 22, "align": "left", "baseline": "middle"},
   "encoding": {"x": {"datum": 5.72, "type": "quantitative", "scale": {"domain": [-3.4073, 6.6152], "nice": false, "zero": false}, "axis": null}, "y": {"datum": -1.28, "type": "quantitative", "scale": {"domain": [-2.9045, 8.0045], "nice": false, "zero": false, "reverse": true}, "axis": null}}},
  {"data": {"values": [{}]}, "mark": {"type": "rule", "color": "#bebebe", "strokeWidth": 2},
   "encoding": {"x": {"datum": 0.986, "type": "quantitative", "scale": {"domain": [-3.4073, 6.6152], "nice": false, "zero": false}, "axis": null}, "x2": {"datum": 1.91}, "y": {"datum": -1.213, "type": "quantitative", "scale": {"domain": [-2.9045, 8.0045], "nice": false, "zero": false, "reverse": true}, "axis": null}}},
  {"data": {"values": [{}]}, "mark": {"type": "point", "shape": "triangle-right", "filled": true, "color": "#bebebe", "size": 64, "opacity": 1},
   "encoding": {"x": {"datum": 1.919, "type": "quantitative", "scale": {"domain": [-3.4073, 6.6152], "nice": false, "zero": false}, "axis": null}, "y": {"datum": -1.213, "type": "quantitative", "scale": {"domain": [-2.9045, 8.0045], "nice": false, "zero": false, "reverse": true}, "axis": null}}},
  {"data": {"values": [{}]}, "mark": {"type": "text", "text": "Favors the SF", "fontSize": 17, "fontWeight": "bold", "align": "left", "baseline": "middle"},
   "encoding": {"x": {"datum": 0.969, "type": "quantitative", "scale": {"domain": [-3.4073, 6.6152], "nice": false, "zero": false}, "axis": null}, "y": {"datum": -0.45, "type": "quantitative", "scale": {"domain": [-2.9045, 8.0045], "nice": false, "zero": false, "reverse": true}, "axis": null}}},
  {"data": {"values": [{}]}, "mark": {"type": "rule", "color": "#a0a0a0", "strokeWidth": 1.5, "strokeDash": [6, 4]},
   "encoding": {"x": {"datum": 1, "type": "quantitative", "scale": {"domain": [-3.4073, 6.6152], "nice": false, "zero": false}, "axis": null}, "y": {"datum": 0.107, "type": "quantitative", "scale": {"domain": [-2.9045, 8.0045], "nice": false, "zero": false, "reverse": true}, "axis": null}, "y2": {"datum": 7.028}}},
  {"data": {"name": "forest"}, "transform": [{"filter": "datum.p === 'F' && datum.level === 0"}],
   "mark": {"type": "text", "fontSize": 22.5, "fontWeight": "bold", "align": "left", "baseline": "middle"},
   "encoding": {"x": {"datum": -3.205, "type": "quantitative", "scale": {"domain": [-3.4073, 6.6152], "nice": false, "zero": false}, "axis": null}, "y": {"field": "row", "type": "quantitative", "scale": {"domain": [-2.9045, 8.0045], "nice": false, "zero": false, "reverse": true}, "axis": null}, "text": {"field": "label"}}},
  {"data": {"name": "forest"}, "transform": [{"filter": "datum.p === 'F' && datum.level === 1"}],
   "mark": {"type": "text", "fontSize": 22.5, "fontWeight": "bold", "align": "left", "baseline": "middle", "dy": 5},
   "encoding": {"x": {"datum": -2.949, "type": "quantitative", "scale": {"domain": [-3.4073, 6.6152], "nice": false, "zero": false}, "axis": null}, "y": {"field": "row", "type": "quantitative", "scale": {"domain": [-2.9045, 8.0045], "nice": false, "zero": false, "reverse": true}, "axis": null}, "text": {"field": "label"}}},
  {"data": {"name": "forest"}, "transform": [{"filter": "datum.p === 'F' && datum.level === 2"}],
   "mark": {"type": "text", "fontSize": 22, "align": "left", "baseline": "middle"},
   "encoding": {"x": {"datum": -2.697, "type": "quantitative", "scale": {"domain": [-3.4073, 6.6152], "nice": false, "zero": false}, "axis": null}, "y": {"field": "row", "type": "quantitative", "scale": {"domain": [-2.9045, 8.0045], "nice": false, "zero": false, "reverse": true}, "axis": null}, "text": {"field": "label"}}},
  {"data": {"name": "forest"}, "transform": [{"filter": "datum.p === 'F' && datum.level === 2"}],
   "mark": {"type": "rule", "color": "#111111", "strokeWidth": 2},
   "encoding": {"x": {"field": "lo", "type": "quantitative", "scale": {"domain": [-3.4073, 6.6152], "nice": false, "zero": false}, "axis": null}, "x2": {"field": "hi"}, "y": {"field": "row", "type": "quantitative", "scale": {"domain": [-2.9045, 8.0045], "nice": false, "zero": false, "reverse": true}, "axis": null}}},
  {"data": {"name": "forest"}, "transform": [{"filter": "datum.p === 'F' && datum.level === 2"}],
   "mark": {"type": "point", "shape": "M0,-1V1", "filled": false, "color": "#111111", "strokeWidth": 2, "size": 100, "opacity": 1},
   "encoding": {"x": {"field": "lo", "type": "quantitative", "scale": {"domain": [-3.4073, 6.6152], "nice": false, "zero": false}, "axis": null}, "y": {"field": "row", "type": "quantitative", "scale": {"domain": [-2.9045, 8.0045], "nice": false, "zero": false, "reverse": true}, "axis": null}}},
  {"data": {"name": "forest"}, "transform": [{"filter": "datum.p === 'F' && datum.level === 2"}],
   "mark": {"type": "point", "shape": "M0,-1V1", "filled": false, "color": "#111111", "strokeWidth": 2, "size": 100, "opacity": 1},
   "encoding": {"x": {"field": "hi", "type": "quantitative", "scale": {"domain": [-3.4073, 6.6152], "nice": false, "zero": false}, "axis": null}, "y": {"field": "row", "type": "quantitative", "scale": {"domain": [-2.9045, 8.0045], "nice": false, "zero": false, "reverse": true}, "axis": null}}},
  {"data": {"name": "forest"}, "transform": [{"filter": "datum.p === 'F' && datum.level === 2"}],
   "mark": {"type": "point", "shape": "square", "filled": true, "fill": "#c00000", "stroke": "#9a9a9a", "strokeWidth": 1, "size": 342, "opacity": 1},
   "encoding": {"x": {"field": "hr", "type": "quantitative", "scale": {"domain": [-3.4073, 6.6152], "nice": false, "zero": false}, "axis": null}, "y": {"field": "row", "type": "quantitative", "scale": {"domain": [-2.9045, 8.0045], "nice": false, "zero": false, "reverse": true}, "axis": null}}},
  {"data": {"name": "forest"}, "transform": [{"filter": "datum.p === 'F' && datum.level === 2"}],
   "mark": {"type": "text", "fontSize": 22, "align": "center", "baseline": "middle"},
   "encoding": {"x": {"datum": 4.312, "type": "quantitative", "scale": {"domain": [-3.4073, 6.6152], "nice": false, "zero": false}, "axis": null}, "y": {"field": "row", "type": "quantitative", "scale": {"domain": [-2.9045, 8.0045], "nice": false, "zero": false, "reverse": true}, "axis": null}, "text": {"field": "ci"}}},
  {"data": {"name": "forest"}, "transform": [{"filter": "datum.p === 'F' && datum.level === 2"}],
   "mark": {"type": "text", "fontSize": 22, "align": "center", "baseline": "middle"},
   "encoding": {"x": {"datum": 5.952, "type": "quantitative", "scale": {"domain": [-3.4073, 6.6152], "nice": false, "zero": false}, "axis": null}, "y": {"field": "row", "type": "quantitative", "scale": {"domain": [-2.9045, 8.0045], "nice": false, "zero": false, "reverse": true}, "axis": null}, "text": {"field": "pv"}}},
  {"data": {"values": [{}]}, "mark": {"type": "rule", "color": "#bdbdbd", "strokeWidth": 2},
   "encoding": {"x": {"datum": 0, "type": "quantitative", "scale": {"domain": [-3.4073, 6.6152], "nice": false, "zero": false}, "axis": null}, "x2": {"datum": 3}, "y": {"datum": 7.028, "type": "quantitative", "scale": {"domain": [-2.9045, 8.0045], "nice": false, "zero": false, "reverse": true}, "axis": null}}},
  {"data": {"name": "hr_ticks"}, "transform": [{"filter": "datum.p === 'F'"}],
   "mark": {"type": "point", "shape": "M0,0V1", "filled": false, "color": "#bdbdbd", "strokeWidth": 2, "size": 144, "opacity": 1},
   "encoding": {"x": {"field": "v", "type": "quantitative", "scale": {"domain": [-3.4073, 6.6152], "nice": false, "zero": false}, "axis": null}, "y": {"datum": 7.028, "type": "quantitative", "scale": {"domain": [-2.9045, 8.0045], "nice": false, "zero": false, "reverse": true}, "axis": null}}},
  {"data": {"name": "hr_ticks"}, "transform": [{"filter": "datum.p === 'F'"}],
   "mark": {"type": "text", "fontSize": 17.5, "align": "center", "baseline": "middle", "color": "#222222"},
   "encoding": {"x": {"field": "v", "type": "quantitative", "scale": {"domain": [-3.4073, 6.6152], "nice": false, "zero": false}, "axis": null}, "y": {"datum": 7.614, "type": "quantitative", "scale": {"domain": [-2.9045, 8.0045], "nice": false, "zero": false, "reverse": true}, "axis": null}, "text": {"field": "v", "type": "quantitative", "format": ".1f"}}},
  {"data": {"values": [{}]}, "mark": {"type": "text", "text": "F", "fontSize": 46, "fontWeight": "bold", "align": "left", "baseline": "top", "color": "#000000"},
   "encoding": {"x": {"datum": -4.0815, "type": "quantitative", "scale": {"domain": [-3.4073, 6.6152], "nice": false, "zero": false}, "axis": null}, "y": {"datum": -3.963, "type": "quantitative", "scale": {"domain": [-2.9045, 8.0045], "nice": false, "zero": false, "reverse": true}, "axis": null}}}
 ]
}
]
}
]
}
